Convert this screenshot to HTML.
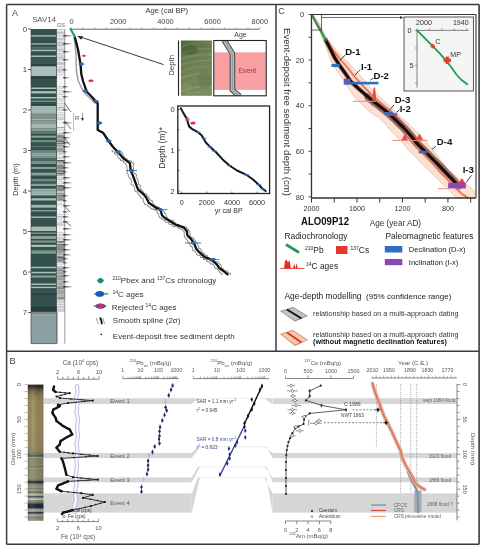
<!DOCTYPE html>
<html><head><meta charset="utf-8"><style>
html,body{margin:0;padding:0;background:#fff;width:485px;height:550px;overflow:hidden}
svg{display:block;filter:blur(0.3px)}
text{font-family:"Liberation Sans", sans-serif}
</style></head><body>
<svg width="485" height="550" viewBox="0 0 485 550">
<rect x="0" y="0" width="485" height="550" fill="#fff"/>
<text x="12" y="15.5" font-size="9" fill="#444" text-anchor="start" font-weight="normal" >A</text>
<text x="44" y="22.3" font-size="7.8" fill="#555" text-anchor="middle" font-weight="normal" >SAV14</text>
<text x="61" y="27" font-size="5.5" fill="#666" text-anchor="middle" font-weight="normal" >GS</text>
<rect x="31" y="29" width="25.6" height="283.6" fill="#33524d" stroke="none" stroke-width="1" />
<rect x="31" y="35.2" width="25.6" height="1.3999999999999986" fill="#a9bfba" stroke="none" stroke-width="1" />
<rect x="31" y="43.2" width="25.6" height="1.3999999999999986" fill="#9ab2aa" stroke="none" stroke-width="1" />
<rect x="31" y="47.5" width="25.6" height="0.7999999999999972" fill="#7a958d" stroke="none" stroke-width="1" />
<rect x="31" y="49.7" width="25.6" height="1.5" fill="#a9bfba" stroke="none" stroke-width="1" />
<rect x="31" y="55.5" width="25.6" height="1.5" fill="#a9bfba" stroke="none" stroke-width="1" />
<rect x="31" y="57.7" width="25.6" height="6.599999999999994" fill="#3c5654" stroke="none" stroke-width="1" />
<rect x="31" y="64.3" width="25.6" height="1.4000000000000057" fill="#283c3e" stroke="none" stroke-width="1" />
<rect x="31" y="66.3" width="25.6" height="9.700000000000003" fill="#a9bfba" stroke="none" stroke-width="1" />
<rect x="31" y="76" width="25.6" height="3" fill="#2a4044" stroke="none" stroke-width="1" />
<rect x="31" y="87.5" width="25.6" height="1.5" fill="#a9bfba" stroke="none" stroke-width="1" />
<rect x="31" y="91.2" width="25.6" height="2.200000000000003" fill="#b0c4bc" stroke="none" stroke-width="1" />
<rect x="31" y="97" width="25.6" height="1.5" fill="#a9bfba" stroke="none" stroke-width="1" />
<rect x="31" y="100.6" width="25.6" height="1.4000000000000057" fill="#7a958d" stroke="none" stroke-width="1" />
<rect x="31" y="104.4" width="25.6" height="1.3999999999999915" fill="#263a3c" stroke="none" stroke-width="1" />
<rect x="31" y="105.8" width="25.6" height="8.0" fill="#a2b8b0" stroke="none" stroke-width="1" />
<rect x="31" y="113.8" width="25.6" height="5.200000000000003" fill="#7f9189" stroke="none" stroke-width="1" />
<rect x="31" y="119" width="25.6" height="1.4000000000000057" fill="#a0b4ac" stroke="none" stroke-width="1" />
<rect x="31" y="120.4" width="25.6" height="3.5999999999999943" fill="#8a9b93" stroke="none" stroke-width="1" />
<rect x="31" y="124" width="25.6" height="4.400000000000006" fill="#a6b8b0" stroke="none" stroke-width="1" />
<rect x="31" y="128.4" width="25.6" height="2.9000000000000057" fill="#8a9c94" stroke="none" stroke-width="1" />
<rect x="31" y="131.3" width="25.6" height="2.8999999999999773" fill="#5f7a72" stroke="none" stroke-width="1" />
<rect x="31" y="134.2" width="25.6" height="1.4000000000000057" fill="#2c4442" stroke="none" stroke-width="1" />
<rect x="31" y="135.6" width="25.6" height="2.200000000000017" fill="#8aa49c" stroke="none" stroke-width="1" />
<rect x="31" y="137.8" width="25.6" height="2.1999999999999886" fill="#2f4c48" stroke="none" stroke-width="1" />
<rect x="31" y="140" width="25.6" height="2.1999999999999886" fill="#6f8c84" stroke="none" stroke-width="1" />
<rect x="31" y="146" width="25.6" height="1" fill="#5a7a72" stroke="none" stroke-width="1" />
<rect x="31" y="150.2" width="25.6" height="2.8000000000000114" fill="#6a8880" stroke="none" stroke-width="1" />
<rect x="31" y="153" width="25.6" height="3" fill="#8ca29a" stroke="none" stroke-width="1" />
<rect x="31" y="156" width="25.6" height="2.1999999999999886" fill="#7c948c" stroke="none" stroke-width="1" />
<rect x="31" y="158.2" width="25.6" height="2.8000000000000114" fill="#4a6660" stroke="none" stroke-width="1" />
<rect x="31" y="161" width="25.6" height="3" fill="#7a9088" stroke="none" stroke-width="1" />
<rect x="31" y="167" width="25.6" height="2" fill="#8aa098" stroke="none" stroke-width="1" />
<rect x="31" y="172.7" width="25.6" height="2.8000000000000114" fill="#8aa098" stroke="none" stroke-width="1" />
<rect x="31" y="177.2" width="25.6" height="1.4000000000000057" fill="#283e3e" stroke="none" stroke-width="1" />
<rect x="31" y="178.6" width="25.6" height="2.9000000000000057" fill="#6a8880" stroke="none" stroke-width="1" />
<rect x="31" y="183.7" width="25.6" height="2.3000000000000114" fill="#8aa098" stroke="none" stroke-width="1" />
<rect x="31" y="188.8" width="25.6" height="1.5" fill="#a9bfba" stroke="none" stroke-width="1" />
<rect x="31" y="190.3" width="25.6" height="2.8999999999999773" fill="#9ab0a8" stroke="none" stroke-width="1" />
<rect x="31" y="193.2" width="25.6" height="2.200000000000017" fill="#a9bfba" stroke="none" stroke-width="1" />
<rect x="31" y="198.3" width="25.6" height="2.1999999999999886" fill="#a9bfba" stroke="none" stroke-width="1" />
<rect x="31" y="204.8" width="25.6" height="2.8999999999999773" fill="#a0b8b0" stroke="none" stroke-width="1" />
<rect x="31" y="210" width="25.6" height="1.4000000000000057" fill="#8aa098" stroke="none" stroke-width="1" />
<rect x="31" y="216.5" width="25.6" height="1.4000000000000057" fill="#a9bfba" stroke="none" stroke-width="1" />
<rect x="31" y="226.6" width="25.6" height="4.400000000000006" fill="#a8bcb4" stroke="none" stroke-width="1" />
<rect x="31" y="232.5" width="25.6" height="1.5" fill="#7a9088" stroke="none" stroke-width="1" />
<rect x="31" y="236" width="25.6" height="3" fill="#8aa098" stroke="none" stroke-width="1" />
<rect x="31" y="240.5" width="25.6" height="2.0999999999999943" fill="#8a9088" stroke="none" stroke-width="1" />
<rect x="31" y="244.8" width="25.6" height="2.1999999999999886" fill="#a9bfba" stroke="none" stroke-width="1" />
<rect x="31" y="250" width="25.6" height="1.5" fill="#6a8880" stroke="none" stroke-width="1" />
<rect x="31" y="251.5" width="25.6" height="2.0999999999999943" fill="#8aa49c" stroke="none" stroke-width="1" />
<rect x="31" y="266.7" width="25.6" height="1.5" fill="#a9bfba" stroke="none" stroke-width="1" />
<rect x="31" y="271.8" width="25.6" height="1.5" fill="#a9bfba" stroke="none" stroke-width="1" />
<rect x="31" y="275.5" width="25.6" height="2.1000000000000227" fill="#8aa098" stroke="none" stroke-width="1" />
<rect x="31" y="283.5" width="25.6" height="1.5" fill="#a9bfba" stroke="none" stroke-width="1" />
<rect x="31" y="286.7" width="25.6" height="1.400000000000034" fill="#a9bfba" stroke="none" stroke-width="1" />
<rect x="31" y="293.6" width="25.6" height="1.3999999999999773" fill="#283c3e" stroke="none" stroke-width="1" />
<rect x="31" y="306.7" width="25.6" height="5.100000000000023" fill="#2a3c3e" stroke="none" stroke-width="1" />
<rect x="31" y="311.8" width="25.6" height="2.8999999999999773" fill="#7a8a80" stroke="none" stroke-width="1" />
<rect x="31" y="314.7" width="25.6" height="28.900000000000034" fill="#8c9fa2" stroke="none" stroke-width="1" />
<line x1="31" y1="29" x2="31" y2="343.6" stroke="#333" stroke-width="0.6" />
<line x1="56.6" y1="29" x2="56.6" y2="343.6" stroke="#333" stroke-width="0.6" />
<line x1="31" y1="343.6" x2="56.6" y2="343.6" stroke="#333" stroke-width="0.6" />
<rect x="57.2" y="29" width="7.599999999999994" height="283" fill="#f4f4f4" stroke="none" stroke-width="1" />
<line x1="57.2" y1="29.5" x2="64.8" y2="29.5" stroke="#999" stroke-width="0.5" />
<line x1="57.2" y1="31.7" x2="64.8" y2="31.7" stroke="#aaa" stroke-width="0.5" />
<line x1="57.2" y1="32.9" x2="64.8" y2="32.9" stroke="#999" stroke-width="0.9" />
<line x1="57.2" y1="34.1" x2="64.8" y2="34.1" stroke="#bbb" stroke-width="0.5" />
<line x1="57.2" y1="35.300000000000004" x2="64.8" y2="35.300000000000004" stroke="#ccc" stroke-width="0.7" />
<line x1="57.2" y1="36.50000000000001" x2="64.8" y2="36.50000000000001" stroke="#bbb" stroke-width="0.5" />
<line x1="57.2" y1="38.70000000000001" x2="64.8" y2="38.70000000000001" stroke="#aaa" stroke-width="0.9" />
<line x1="57.2" y1="39.90000000000001" x2="64.8" y2="39.90000000000001" stroke="#bbb" stroke-width="0.9" />
<line x1="57.2" y1="41.100000000000016" x2="64.8" y2="41.100000000000016" stroke="#ccc" stroke-width="0.5" />
<line x1="57.2" y1="42.600000000000016" x2="64.8" y2="42.600000000000016" stroke="#aaa" stroke-width="0.9" />
<line x1="57.2" y1="44.100000000000016" x2="64.8" y2="44.100000000000016" stroke="#999" stroke-width="0.7" />
<line x1="57.2" y1="45.600000000000016" x2="64.8" y2="45.600000000000016" stroke="#aaa" stroke-width="0.9" />
<line x1="57.2" y1="47.40000000000001" x2="64.8" y2="47.40000000000001" stroke="#bbb" stroke-width="0.5" />
<line x1="57.2" y1="48.90000000000001" x2="64.8" y2="48.90000000000001" stroke="#999" stroke-width="0.5" />
<line x1="57.2" y1="50.100000000000016" x2="64.8" y2="50.100000000000016" stroke="#aaa" stroke-width="0.9" />
<line x1="57.2" y1="51.600000000000016" x2="64.8" y2="51.600000000000016" stroke="#ccc" stroke-width="0.9" />
<line x1="57.2" y1="53.80000000000002" x2="64.8" y2="53.80000000000002" stroke="#999" stroke-width="0.7" />
<line x1="57.2" y1="56.00000000000002" x2="64.8" y2="56.00000000000002" stroke="#999" stroke-width="0.7" />
<line x1="57.2" y1="57.50000000000002" x2="64.8" y2="57.50000000000002" stroke="#bbb" stroke-width="0.9" />
<line x1="57.2" y1="59.00000000000002" x2="64.8" y2="59.00000000000002" stroke="#aaa" stroke-width="0.9" />
<line x1="57.2" y1="60.80000000000002" x2="64.8" y2="60.80000000000002" stroke="#ccc" stroke-width="0.7" />
<line x1="57.2" y1="63.00000000000002" x2="64.8" y2="63.00000000000002" stroke="#999" stroke-width="0.9" />
<line x1="57.2" y1="64.20000000000002" x2="64.8" y2="64.20000000000002" stroke="#aaa" stroke-width="0.9" />
<line x1="57.2" y1="66.40000000000002" x2="64.8" y2="66.40000000000002" stroke="#bbb" stroke-width="0.7" />
<line x1="57.2" y1="67.90000000000002" x2="64.8" y2="67.90000000000002" stroke="#ccc" stroke-width="0.7" />
<line x1="57.2" y1="69.10000000000002" x2="64.8" y2="69.10000000000002" stroke="#aaa" stroke-width="0.9" />
<line x1="57.2" y1="70.90000000000002" x2="64.8" y2="70.90000000000002" stroke="#999" stroke-width="0.9" />
<line x1="57.2" y1="72.70000000000002" x2="64.8" y2="72.70000000000002" stroke="#ccc" stroke-width="0.9" />
<line x1="57.2" y1="74.90000000000002" x2="64.8" y2="74.90000000000002" stroke="#aaa" stroke-width="0.5" />
<line x1="57.2" y1="76.70000000000002" x2="64.8" y2="76.70000000000002" stroke="#ccc" stroke-width="0.9" />
<line x1="57.2" y1="77.90000000000002" x2="64.8" y2="77.90000000000002" stroke="#aaa" stroke-width="0.9" />
<line x1="57.2" y1="79.70000000000002" x2="64.8" y2="79.70000000000002" stroke="#ccc" stroke-width="0.7" />
<line x1="57.2" y1="81.90000000000002" x2="64.8" y2="81.90000000000002" stroke="#999" stroke-width="0.5" />
<line x1="57.2" y1="84.10000000000002" x2="64.8" y2="84.10000000000002" stroke="#999" stroke-width="0.5" />
<line x1="57.2" y1="85.30000000000003" x2="64.8" y2="85.30000000000003" stroke="#ccc" stroke-width="0.5" />
<line x1="57.2" y1="86.80000000000003" x2="64.8" y2="86.80000000000003" stroke="#999" stroke-width="0.5" />
<line x1="57.2" y1="88.30000000000003" x2="64.8" y2="88.30000000000003" stroke="#ccc" stroke-width="0.7" />
<line x1="57.2" y1="90.50000000000003" x2="64.8" y2="90.50000000000003" stroke="#aaa" stroke-width="0.5" />
<line x1="57.2" y1="92.70000000000003" x2="64.8" y2="92.70000000000003" stroke="#ccc" stroke-width="0.9" />
<line x1="57.2" y1="94.50000000000003" x2="64.8" y2="94.50000000000003" stroke="#bbb" stroke-width="0.7" />
<line x1="57.2" y1="96.30000000000003" x2="64.8" y2="96.30000000000003" stroke="#ccc" stroke-width="0.7" />
<line x1="57.2" y1="98.50000000000003" x2="64.8" y2="98.50000000000003" stroke="#bbb" stroke-width="0.5" />
<line x1="57.2" y1="99.70000000000003" x2="64.8" y2="99.70000000000003" stroke="#bbb" stroke-width="0.5" />
<line x1="57.2" y1="101.20000000000003" x2="64.8" y2="101.20000000000003" stroke="#bbb" stroke-width="0.5" />
<line x1="57.2" y1="103.40000000000003" x2="64.8" y2="103.40000000000003" stroke="#bbb" stroke-width="0.7" />
<line x1="57.2" y1="105.20000000000003" x2="64.8" y2="105.20000000000003" stroke="#aaa" stroke-width="0.5" />
<line x1="57.2" y1="107.40000000000003" x2="64.8" y2="107.40000000000003" stroke="#999" stroke-width="0.9" />
<line x1="57.2" y1="109.20000000000003" x2="64.8" y2="109.20000000000003" stroke="#bbb" stroke-width="0.9" />
<line x1="57.2" y1="110.40000000000003" x2="64.8" y2="110.40000000000003" stroke="#ccc" stroke-width="0.9" />
<line x1="57.2" y1="112.60000000000004" x2="64.8" y2="112.60000000000004" stroke="#ccc" stroke-width="0.7" />
<line x1="57.2" y1="114.80000000000004" x2="64.8" y2="114.80000000000004" stroke="#aaa" stroke-width="0.7" />
<line x1="57.2" y1="117.00000000000004" x2="64.8" y2="117.00000000000004" stroke="#aaa" stroke-width="0.5" />
<line x1="57.2" y1="118.20000000000005" x2="64.8" y2="118.20000000000005" stroke="#bbb" stroke-width="0.7" />
<line x1="57.2" y1="119.70000000000005" x2="64.8" y2="119.70000000000005" stroke="#aaa" stroke-width="0.7" />
<line x1="57.2" y1="120.90000000000005" x2="64.8" y2="120.90000000000005" stroke="#aaa" stroke-width="0.5" />
<line x1="57.2" y1="122.40000000000005" x2="64.8" y2="122.40000000000005" stroke="#aaa" stroke-width="0.7" />
<line x1="57.2" y1="123.60000000000005" x2="64.8" y2="123.60000000000005" stroke="#aaa" stroke-width="0.5" />
<line x1="57.2" y1="125.80000000000005" x2="64.8" y2="125.80000000000005" stroke="#bbb" stroke-width="0.9" />
<line x1="57.2" y1="127.60000000000005" x2="64.8" y2="127.60000000000005" stroke="#999" stroke-width="0.9" />
<line x1="57.2" y1="129.40000000000006" x2="64.8" y2="129.40000000000006" stroke="#ccc" stroke-width="0.5" />
<line x1="57.2" y1="130.60000000000005" x2="64.8" y2="130.60000000000005" stroke="#ccc" stroke-width="0.7" />
<line x1="57.2" y1="132.80000000000004" x2="64.8" y2="132.80000000000004" stroke="#ccc" stroke-width="0.7" />
<line x1="57.2" y1="134.00000000000003" x2="64.8" y2="134.00000000000003" stroke="#777" stroke-width="0.7" />
<line x1="57.2" y1="135.40000000000003" x2="64.8" y2="135.40000000000003" stroke="#999" stroke-width="1.2" />
<line x1="57.2" y1="136.50000000000003" x2="64.8" y2="136.50000000000003" stroke="#888" stroke-width="1.2" />
<line x1="57.2" y1="137.40000000000003" x2="64.8" y2="137.40000000000003" stroke="#555" stroke-width="0.7" />
<line x1="57.2" y1="138.80000000000004" x2="64.8" y2="138.80000000000004" stroke="#999" stroke-width="0.7" />
<line x1="57.2" y1="140.20000000000005" x2="64.8" y2="140.20000000000005" stroke="#555" stroke-width="1.2" />
<line x1="57.2" y1="141.30000000000004" x2="64.8" y2="141.30000000000004" stroke="#555" stroke-width="1.2" />
<line x1="57.2" y1="142.40000000000003" x2="64.8" y2="142.40000000000003" stroke="#999" stroke-width="0.7" />
<line x1="57.2" y1="143.50000000000003" x2="64.8" y2="143.50000000000003" stroke="#777" stroke-width="1.2" />
<line x1="57.2" y1="144.90000000000003" x2="64.8" y2="144.90000000000003" stroke="#999" stroke-width="1.2" />
<line x1="57.2" y1="145.80000000000004" x2="64.8" y2="145.80000000000004" stroke="#777" stroke-width="0.7" />
<line x1="57.2" y1="146.90000000000003" x2="64.8" y2="146.90000000000003" stroke="#777" stroke-width="0.7" />
<line x1="57.2" y1="148.30000000000004" x2="64.8" y2="148.30000000000004" stroke="#888" stroke-width="0.9" />
<line x1="57.2" y1="149.70000000000005" x2="64.8" y2="149.70000000000005" stroke="#555" stroke-width="0.7" />
<line x1="57.2" y1="150.80000000000004" x2="64.8" y2="150.80000000000004" stroke="#888" stroke-width="0.9" />
<line x1="57.2" y1="151.70000000000005" x2="64.8" y2="151.70000000000005" stroke="#999" stroke-width="0.9" />
<line x1="57.2" y1="153.10000000000005" x2="64.8" y2="153.10000000000005" stroke="#999" stroke-width="0.7" />
<line x1="57.2" y1="154.30000000000004" x2="64.8" y2="154.30000000000004" stroke="#bbb" stroke-width="0.5" />
<line x1="57.2" y1="155.80000000000004" x2="64.8" y2="155.80000000000004" stroke="#ccc" stroke-width="0.5" />
<line x1="57.2" y1="157.60000000000005" x2="64.8" y2="157.60000000000005" stroke="#bbb" stroke-width="0.7" />
<line x1="57.2" y1="158.80000000000004" x2="64.8" y2="158.80000000000004" stroke="#ccc" stroke-width="0.9" />
<line x1="57.2" y1="160.60000000000005" x2="64.8" y2="160.60000000000005" stroke="#555" stroke-width="1.2" />
<line x1="57.2" y1="161.50000000000006" x2="64.8" y2="161.50000000000006" stroke="#888" stroke-width="1.2" />
<line x1="57.2" y1="162.40000000000006" x2="64.8" y2="162.40000000000006" stroke="#888" stroke-width="0.7" />
<line x1="57.2" y1="163.50000000000006" x2="64.8" y2="163.50000000000006" stroke="#999" stroke-width="0.7" />
<line x1="57.2" y1="164.90000000000006" x2="64.8" y2="164.90000000000006" stroke="#888" stroke-width="0.9" />
<line x1="57.2" y1="166.00000000000006" x2="64.8" y2="166.00000000000006" stroke="#555" stroke-width="1.2" />
<line x1="57.2" y1="166.90000000000006" x2="64.8" y2="166.90000000000006" stroke="#777" stroke-width="0.7" />
<line x1="57.2" y1="167.80000000000007" x2="64.8" y2="167.80000000000007" stroke="#777" stroke-width="1.2" />
<line x1="57.2" y1="168.90000000000006" x2="64.8" y2="168.90000000000006" stroke="#777" stroke-width="1.2" />
<line x1="57.2" y1="170.30000000000007" x2="64.8" y2="170.30000000000007" stroke="#888" stroke-width="1.2" />
<line x1="57.2" y1="171.40000000000006" x2="64.8" y2="171.40000000000006" stroke="#777" stroke-width="1.2" />
<line x1="57.2" y1="172.80000000000007" x2="64.8" y2="172.80000000000007" stroke="#777" stroke-width="0.7" />
<line x1="57.2" y1="173.70000000000007" x2="64.8" y2="173.70000000000007" stroke="#555" stroke-width="1.2" />
<line x1="57.2" y1="175.10000000000008" x2="64.8" y2="175.10000000000008" stroke="#777" stroke-width="0.9" />
<line x1="57.2" y1="176.00000000000009" x2="64.8" y2="176.00000000000009" stroke="#bbb" stroke-width="0.5" />
<line x1="57.2" y1="177.8000000000001" x2="64.8" y2="177.8000000000001" stroke="#bbb" stroke-width="0.7" />
<line x1="57.2" y1="179.3000000000001" x2="64.8" y2="179.3000000000001" stroke="#999" stroke-width="0.7" />
<line x1="57.2" y1="181.50000000000009" x2="64.8" y2="181.50000000000009" stroke="#bbb" stroke-width="0.5" />
<line x1="57.2" y1="183.3000000000001" x2="64.8" y2="183.3000000000001" stroke="#ccc" stroke-width="0.9" />
<line x1="57.2" y1="185.50000000000009" x2="64.8" y2="185.50000000000009" stroke="#777" stroke-width="1.2" />
<line x1="57.2" y1="186.4000000000001" x2="64.8" y2="186.4000000000001" stroke="#555" stroke-width="0.9" />
<line x1="57.2" y1="187.3000000000001" x2="64.8" y2="187.3000000000001" stroke="#555" stroke-width="0.7" />
<line x1="57.2" y1="188.2000000000001" x2="64.8" y2="188.2000000000001" stroke="#777" stroke-width="0.9" />
<line x1="57.2" y1="189.6000000000001" x2="64.8" y2="189.6000000000001" stroke="#555" stroke-width="1.2" />
<line x1="57.2" y1="190.5000000000001" x2="64.8" y2="190.5000000000001" stroke="#999" stroke-width="1.2" />
<line x1="57.2" y1="191.90000000000012" x2="64.8" y2="191.90000000000012" stroke="#888" stroke-width="0.7" />
<line x1="57.2" y1="193.30000000000013" x2="64.8" y2="193.30000000000013" stroke="#555" stroke-width="0.7" />
<line x1="57.2" y1="194.20000000000013" x2="64.8" y2="194.20000000000013" stroke="#999" stroke-width="0.7" />
<line x1="57.2" y1="195.10000000000014" x2="64.8" y2="195.10000000000014" stroke="#888" stroke-width="1.2" />
<line x1="57.2" y1="196.00000000000014" x2="64.8" y2="196.00000000000014" stroke="#555" stroke-width="0.9" />
<line x1="57.2" y1="197.10000000000014" x2="64.8" y2="197.10000000000014" stroke="#777" stroke-width="1.2" />
<line x1="57.2" y1="198.20000000000013" x2="64.8" y2="198.20000000000013" stroke="#888" stroke-width="1.2" />
<line x1="57.2" y1="199.60000000000014" x2="64.8" y2="199.60000000000014" stroke="#888" stroke-width="1.2" />
<line x1="57.2" y1="200.50000000000014" x2="64.8" y2="200.50000000000014" stroke="#999" stroke-width="0.9" />
<line x1="57.2" y1="202.00000000000014" x2="64.8" y2="202.00000000000014" stroke="#ccc" stroke-width="0.5" />
<line x1="57.2" y1="204.20000000000013" x2="64.8" y2="204.20000000000013" stroke="#aaa" stroke-width="0.7" />
<line x1="57.2" y1="206.40000000000012" x2="64.8" y2="206.40000000000012" stroke="#999" stroke-width="0.5" />
<line x1="57.2" y1="207.90000000000012" x2="64.8" y2="207.90000000000012" stroke="#ccc" stroke-width="0.5" />
<line x1="57.2" y1="209.40000000000012" x2="64.8" y2="209.40000000000012" stroke="#999" stroke-width="0.5" />
<line x1="57.2" y1="210.90000000000012" x2="64.8" y2="210.90000000000012" stroke="#999" stroke-width="0.5" />
<line x1="57.2" y1="212.70000000000013" x2="64.8" y2="212.70000000000013" stroke="#bbb" stroke-width="0.7" />
<line x1="57.2" y1="214.20000000000013" x2="64.8" y2="214.20000000000013" stroke="#aaa" stroke-width="0.7" />
<line x1="57.2" y1="216.40000000000012" x2="64.8" y2="216.40000000000012" stroke="#bbb" stroke-width="0.9" />
<line x1="57.2" y1="217.90000000000012" x2="64.8" y2="217.90000000000012" stroke="#bbb" stroke-width="0.9" />
<line x1="57.2" y1="220.1000000000001" x2="64.8" y2="220.1000000000001" stroke="#ccc" stroke-width="0.7" />
<line x1="57.2" y1="222.3000000000001" x2="64.8" y2="222.3000000000001" stroke="#bbb" stroke-width="0.7" />
<line x1="57.2" y1="224.1000000000001" x2="64.8" y2="224.1000000000001" stroke="#aaa" stroke-width="0.9" />
<line x1="57.2" y1="225.90000000000012" x2="64.8" y2="225.90000000000012" stroke="#aaa" stroke-width="0.7" />
<line x1="57.2" y1="228.1000000000001" x2="64.8" y2="228.1000000000001" stroke="#ccc" stroke-width="0.9" />
<line x1="57.2" y1="229.3000000000001" x2="64.8" y2="229.3000000000001" stroke="#ccc" stroke-width="0.7" />
<line x1="57.2" y1="231.1000000000001" x2="64.8" y2="231.1000000000001" stroke="#aaa" stroke-width="0.5" />
<line x1="57.2" y1="232.6000000000001" x2="64.8" y2="232.6000000000001" stroke="#aaa" stroke-width="0.5" />
<line x1="57.2" y1="234.40000000000012" x2="64.8" y2="234.40000000000012" stroke="#999" stroke-width="0.5" />
<line x1="57.2" y1="235.90000000000012" x2="64.8" y2="235.90000000000012" stroke="#999" stroke-width="0.5" />
<line x1="57.2" y1="238.1000000000001" x2="64.8" y2="238.1000000000001" stroke="#999" stroke-width="0.7" />
<line x1="57.2" y1="239.6000000000001" x2="64.8" y2="239.6000000000001" stroke="#ccc" stroke-width="0.9" />
<line x1="57.2" y1="241.40000000000012" x2="64.8" y2="241.40000000000012" stroke="#555" stroke-width="0.9" />
<line x1="57.2" y1="242.30000000000013" x2="64.8" y2="242.30000000000013" stroke="#777" stroke-width="0.9" />
<line x1="57.2" y1="243.20000000000013" x2="64.8" y2="243.20000000000013" stroke="#999" stroke-width="0.7" />
<line x1="57.2" y1="244.60000000000014" x2="64.8" y2="244.60000000000014" stroke="#555" stroke-width="0.9" />
<line x1="57.2" y1="245.50000000000014" x2="64.8" y2="245.50000000000014" stroke="#777" stroke-width="0.7" />
<line x1="57.2" y1="246.60000000000014" x2="64.8" y2="246.60000000000014" stroke="#555" stroke-width="0.9" />
<line x1="57.2" y1="247.50000000000014" x2="64.8" y2="247.50000000000014" stroke="#999" stroke-width="1.2" />
<line x1="57.2" y1="248.60000000000014" x2="64.8" y2="248.60000000000014" stroke="#999" stroke-width="1.2" />
<line x1="57.2" y1="249.50000000000014" x2="64.8" y2="249.50000000000014" stroke="#555" stroke-width="1.2" />
<line x1="57.2" y1="250.90000000000015" x2="64.8" y2="250.90000000000015" stroke="#777" stroke-width="0.7" />
<line x1="57.2" y1="251.80000000000015" x2="64.8" y2="251.80000000000015" stroke="#999" stroke-width="0.7" />
<line x1="57.2" y1="252.70000000000016" x2="64.8" y2="252.70000000000016" stroke="#777" stroke-width="0.9" />
<line x1="57.2" y1="254.10000000000016" x2="64.8" y2="254.10000000000016" stroke="#999" stroke-width="1.2" />
<line x1="57.2" y1="255.00000000000017" x2="64.8" y2="255.00000000000017" stroke="#999" stroke-width="0.9" />
<line x1="57.2" y1="256.40000000000015" x2="64.8" y2="256.40000000000015" stroke="#777" stroke-width="0.9" />
<line x1="57.2" y1="257.50000000000017" x2="64.8" y2="257.50000000000017" stroke="#555" stroke-width="0.9" />
<line x1="57.2" y1="258.40000000000015" x2="64.8" y2="258.40000000000015" stroke="#555" stroke-width="0.7" />
<line x1="57.2" y1="259.8000000000001" x2="64.8" y2="259.8000000000001" stroke="#777" stroke-width="1.2" />
<line x1="57.2" y1="260.90000000000015" x2="64.8" y2="260.90000000000015" stroke="#777" stroke-width="0.9" />
<line x1="57.2" y1="261.8000000000001" x2="64.8" y2="261.8000000000001" stroke="#888" stroke-width="1.2" />
<line x1="57.2" y1="262.90000000000015" x2="64.8" y2="262.90000000000015" stroke="#ccc" stroke-width="0.9" />
<line x1="57.2" y1="264.70000000000016" x2="64.8" y2="264.70000000000016" stroke="#bbb" stroke-width="0.5" />
<line x1="57.2" y1="266.50000000000017" x2="64.8" y2="266.50000000000017" stroke="#bbb" stroke-width="0.9" />
<line x1="57.2" y1="268.00000000000017" x2="64.8" y2="268.00000000000017" stroke="#888" stroke-width="0.9" />
<line x1="57.2" y1="268.90000000000015" x2="64.8" y2="268.90000000000015" stroke="#777" stroke-width="0.7" />
<line x1="57.2" y1="269.8000000000001" x2="64.8" y2="269.8000000000001" stroke="#999" stroke-width="0.9" />
<line x1="57.2" y1="270.7000000000001" x2="64.8" y2="270.7000000000001" stroke="#555" stroke-width="0.7" />
<line x1="57.2" y1="272.1000000000001" x2="64.8" y2="272.1000000000001" stroke="#888" stroke-width="1.2" />
<line x1="57.2" y1="273.50000000000006" x2="64.8" y2="273.50000000000006" stroke="#999" stroke-width="1.2" />
<line x1="57.2" y1="274.40000000000003" x2="64.8" y2="274.40000000000003" stroke="#999" stroke-width="0.7" />
<line x1="57.2" y1="275.50000000000006" x2="64.8" y2="275.50000000000006" stroke="#777" stroke-width="0.7" />
<line x1="57.2" y1="276.6000000000001" x2="64.8" y2="276.6000000000001" stroke="#888" stroke-width="0.7" />
<line x1="57.2" y1="277.7000000000001" x2="64.8" y2="277.7000000000001" stroke="#999" stroke-width="0.9" />
<line x1="57.2" y1="279.1000000000001" x2="64.8" y2="279.1000000000001" stroke="#999" stroke-width="0.7" />
<line x1="57.2" y1="280.00000000000006" x2="64.8" y2="280.00000000000006" stroke="#999" stroke-width="0.7" />
<line x1="57.2" y1="281.1000000000001" x2="64.8" y2="281.1000000000001" stroke="#777" stroke-width="0.7" />
<line x1="57.2" y1="282.2000000000001" x2="64.8" y2="282.2000000000001" stroke="#888" stroke-width="0.7" />
<line x1="57.2" y1="283.3000000000001" x2="64.8" y2="283.3000000000001" stroke="#999" stroke-width="1.2" />
<line x1="57.2" y1="284.7000000000001" x2="64.8" y2="284.7000000000001" stroke="#777" stroke-width="0.7" />
<line x1="57.2" y1="286.1000000000001" x2="64.8" y2="286.1000000000001" stroke="#555" stroke-width="0.7" />
<line x1="57.2" y1="287.2000000000001" x2="64.8" y2="287.2000000000001" stroke="#555" stroke-width="0.7" />
<line x1="57.2" y1="288.3000000000001" x2="64.8" y2="288.3000000000001" stroke="#555" stroke-width="0.9" />
<line x1="57.2" y1="289.2000000000001" x2="64.8" y2="289.2000000000001" stroke="#999" stroke-width="0.9" />
<line x1="57.2" y1="290.6000000000001" x2="64.8" y2="290.6000000000001" stroke="#777" stroke-width="0.7" />
<line x1="57.2" y1="292.00000000000006" x2="64.8" y2="292.00000000000006" stroke="#777" stroke-width="1.2" />
<line x1="57.2" y1="293.40000000000003" x2="64.8" y2="293.40000000000003" stroke="#888" stroke-width="0.9" />
<line x1="57.2" y1="294.8" x2="64.8" y2="294.8" stroke="#888" stroke-width="0.7" />
<line x1="57.2" y1="295.90000000000003" x2="64.8" y2="295.90000000000003" stroke="#777" stroke-width="0.7" />
<line x1="57.2" y1="297.3" x2="64.8" y2="297.3" stroke="#888" stroke-width="1.2" />
<line x1="57.2" y1="298.7" x2="64.8" y2="298.7" stroke="#777" stroke-width="1.2" />
<line x1="57.2" y1="300.09999999999997" x2="64.8" y2="300.09999999999997" stroke="#aaa" stroke-width="0.9" />
<line x1="57.2" y1="301.59999999999997" x2="64.8" y2="301.59999999999997" stroke="#aaa" stroke-width="0.5" />
<line x1="57.2" y1="302.79999999999995" x2="64.8" y2="302.79999999999995" stroke="#bbb" stroke-width="0.9" />
<line x1="57.2" y1="304.59999999999997" x2="64.8" y2="304.59999999999997" stroke="#aaa" stroke-width="0.7" />
<line x1="57.2" y1="306.79999999999995" x2="64.8" y2="306.79999999999995" stroke="#aaa" stroke-width="0.9" />
<line x1="57.2" y1="307.99999999999994" x2="64.8" y2="307.99999999999994" stroke="#bbb" stroke-width="0.7" />
<line x1="57.2" y1="309.79999999999995" x2="64.8" y2="309.79999999999995" stroke="#aaa" stroke-width="0.7" />
<line x1="57.2" y1="310.99999999999994" x2="64.8" y2="310.99999999999994" stroke="#aaa" stroke-width="0.9" />
<rect x="57.2" y="137" width="7.599999999999994" height="4" fill="#9a9a9a" stroke="none" stroke-width="1" opacity="0.7"/>
<rect x="57.2" y="165" width="7.599999999999994" height="3" fill="#8a8a8a" stroke="none" stroke-width="1" opacity="0.7"/>
<rect x="57.2" y="188" width="7.599999999999994" height="3" fill="#8a8a8a" stroke="none" stroke-width="1" opacity="0.7"/>
<rect x="57.2" y="246" width="7.599999999999994" height="6" fill="#909090" stroke="none" stroke-width="1" opacity="0.7"/>
<rect x="57.2" y="276" width="7.599999999999994" height="4" fill="#959595" stroke="none" stroke-width="1" opacity="0.7"/>
<rect x="57.2" y="120" width="7.599999999999994" height="7" fill="#ffffff" stroke="none" stroke-width="1" opacity="0.7"/>
<rect x="57.2" y="76" width="7.599999999999994" height="10" fill="#ffffff" stroke="none" stroke-width="1" opacity="0.7"/>
<rect x="57.2" y="206" width="7.599999999999994" height="8" fill="#ffffff" stroke="none" stroke-width="1" opacity="0.7"/>
<rect x="57.2" y="226" width="7.599999999999994" height="6" fill="#ffffff" stroke="none" stroke-width="1" opacity="0.7"/>
<rect x="57.2" y="312" width="7.599999999999994" height="31.600000000000023" fill="#ffffff" stroke="none" stroke-width="1" />
<line x1="57.5" y1="312" x2="57.5" y2="343.6" stroke="#666" stroke-width="0.5" />
<line x1="64.8" y1="29" x2="64.8" y2="343.6" stroke="#555" stroke-width="0.6" />
<polygon points="63.3,34.9 72.8,36.0 63.3,36.5" fill="#2a2a2a" stroke="none" stroke-width="1" />
<polygon points="63.3,42.9 72.8,44.0 63.3,44.5" fill="#2a2a2a" stroke="none" stroke-width="1" />
<polygon points="63.3,50.9 70.8,52.0 63.3,52.5" fill="#2a2a2a" stroke="none" stroke-width="1" />
<polygon points="63.3,58.9 69.8,60.0 63.3,60.5" fill="#2a2a2a" stroke="none" stroke-width="1" />
<polygon points="63.3,68.9 67.8,70.0 63.3,70.5" fill="#2a2a2a" stroke="none" stroke-width="1" />
<polygon points="63.3,76.9 69.8,78.0 63.3,78.5" fill="#2a2a2a" stroke="none" stroke-width="1" />
<polygon points="63.3,85.9 68.8,87.0 63.3,87.5" fill="#2a2a2a" stroke="none" stroke-width="1" />
<polygon points="63.3,90.9 72.8,92.0 63.3,92.5" fill="#2a2a2a" stroke="none" stroke-width="1" />
<polygon points="63.3,95.9 68.8,97.0 63.3,97.5" fill="#2a2a2a" stroke="none" stroke-width="1" />
<polygon points="63.3,108.9 68.8,110.0 63.3,110.5" fill="#2a2a2a" stroke="none" stroke-width="1" />
<polygon points="63.3,121.9 72.8,123.0 63.3,123.5" fill="#2a2a2a" stroke="none" stroke-width="1" />
<polygon points="63.3,131.9 72.8,133.0 63.3,133.5" fill="#2a2a2a" stroke="none" stroke-width="1" />
<polygon points="63.3,136.9 70.8,138.0 63.3,138.5" fill="#2a2a2a" stroke="none" stroke-width="1" />
<polygon points="63.3,141.9 70.8,143.0 63.3,143.5" fill="#2a2a2a" stroke="none" stroke-width="1" />
<polygon points="63.3,145.9 70.8,147.0 63.3,147.5" fill="#2a2a2a" stroke="none" stroke-width="1" />
<polygon points="63.3,150.9 67.8,152.0 63.3,152.5" fill="#2a2a2a" stroke="none" stroke-width="1" />
<polygon points="63.3,155.9 70.8,157.0 63.3,157.5" fill="#2a2a2a" stroke="none" stroke-width="1" />
<polygon points="63.3,161.9 72.8,163.0 63.3,163.5" fill="#2a2a2a" stroke="none" stroke-width="1" />
<polygon points="63.3,166.9 69.8,168.0 63.3,168.5" fill="#2a2a2a" stroke="none" stroke-width="1" />
<polygon points="63.3,170.9 67.8,172.0 63.3,172.5" fill="#2a2a2a" stroke="none" stroke-width="1" />
<polygon points="63.3,176.9 71.8,178.0 63.3,178.5" fill="#2a2a2a" stroke="none" stroke-width="1" />
<polygon points="63.3,181.9 72.8,183.0 63.3,183.5" fill="#2a2a2a" stroke="none" stroke-width="1" />
<polygon points="63.3,186.9 72.8,188.0 63.3,188.5" fill="#2a2a2a" stroke="none" stroke-width="1" />
<polygon points="63.3,194.9 68.8,196.0 63.3,196.5" fill="#2a2a2a" stroke="none" stroke-width="1" />
<polygon points="63.3,199.9 67.8,201.0 63.3,201.5" fill="#2a2a2a" stroke="none" stroke-width="1" />
<polygon points="63.3,204.9 71.8,206.0 63.3,206.5" fill="#2a2a2a" stroke="none" stroke-width="1" />
<polygon points="63.3,210.9 68.8,212.0 63.3,212.5" fill="#2a2a2a" stroke="none" stroke-width="1" />
<polygon points="63.3,215.9 69.8,217.0 63.3,217.5" fill="#2a2a2a" stroke="none" stroke-width="1" />
<polygon points="63.3,220.9 69.8,222.0 63.3,222.5" fill="#2a2a2a" stroke="none" stroke-width="1" />
<polygon points="63.3,227.9 72.8,229.0 63.3,229.5" fill="#2a2a2a" stroke="none" stroke-width="1" />
<polygon points="63.3,233.9 72.8,235.0 63.3,235.5" fill="#2a2a2a" stroke="none" stroke-width="1" />
<polygon points="63.3,238.9 72.8,240.0 63.3,240.5" fill="#2a2a2a" stroke="none" stroke-width="1" />
<polygon points="63.3,243.9 69.8,245.0 63.3,245.5" fill="#2a2a2a" stroke="none" stroke-width="1" />
<polygon points="63.3,248.9 71.8,250.0 63.3,250.5" fill="#2a2a2a" stroke="none" stroke-width="1" />
<polygon points="63.3,253.9 71.8,255.0 63.3,255.5" fill="#2a2a2a" stroke="none" stroke-width="1" />
<polygon points="63.3,257.9 68.8,259.0 63.3,259.5" fill="#2a2a2a" stroke="none" stroke-width="1" />
<polygon points="63.3,261.9 67.8,263.0 63.3,263.5" fill="#2a2a2a" stroke="none" stroke-width="1" />
<polygon points="63.3,266.9 70.8,268.0 63.3,268.5" fill="#2a2a2a" stroke="none" stroke-width="1" />
<polygon points="63.3,270.9 67.8,272.0 63.3,272.5" fill="#2a2a2a" stroke="none" stroke-width="1" />
<polygon points="63.3,274.9 70.8,276.0 63.3,276.5" fill="#2a2a2a" stroke="none" stroke-width="1" />
<polygon points="63.3,280.9 69.8,282.0 63.3,282.5" fill="#2a2a2a" stroke="none" stroke-width="1" />
<polygon points="63.3,285.9 72.8,287.0 63.3,287.5" fill="#2a2a2a" stroke="none" stroke-width="1" />
<line x1="64.5" y1="103" x2="71" y2="112" stroke="#333" stroke-width="0.7" />
<line x1="64.5" y1="121" x2="71" y2="129" stroke="#333" stroke-width="0.7" />
<line x1="64.5" y1="221" x2="71" y2="226" stroke="#333" stroke-width="0.7" />
<line x1="64.5" y1="138" x2="70" y2="145" stroke="#333" stroke-width="0.7" />
<line x1="64.5" y1="206" x2="70" y2="212" stroke="#333" stroke-width="0.7" />
<text x="27.2" y="31.8" font-size="7.8" fill="#444" text-anchor="end" font-weight="normal" >0</text>
<line x1="28" y1="29.0" x2="31" y2="29.0" stroke="#333" stroke-width="0.8" />
<text x="27.2" y="72.3" font-size="7.8" fill="#444" text-anchor="end" font-weight="normal" >1</text>
<line x1="28" y1="69.5" x2="31" y2="69.5" stroke="#333" stroke-width="0.8" />
<text x="27.2" y="112.8" font-size="7.8" fill="#444" text-anchor="end" font-weight="normal" >2</text>
<line x1="28" y1="110.0" x2="31" y2="110.0" stroke="#333" stroke-width="0.8" />
<text x="27.2" y="153.3" font-size="7.8" fill="#444" text-anchor="end" font-weight="normal" >3</text>
<line x1="28" y1="150.5" x2="31" y2="150.5" stroke="#333" stroke-width="0.8" />
<text x="27.2" y="193.8" font-size="7.8" fill="#444" text-anchor="end" font-weight="normal" >4</text>
<line x1="28" y1="191.0" x2="31" y2="191.0" stroke="#333" stroke-width="0.8" />
<text x="27.2" y="234.3" font-size="7.8" fill="#444" text-anchor="end" font-weight="normal" >5</text>
<line x1="28" y1="231.5" x2="31" y2="231.5" stroke="#333" stroke-width="0.8" />
<text x="27.2" y="274.8" font-size="7.8" fill="#444" text-anchor="end" font-weight="normal" >6</text>
<line x1="28" y1="272.0" x2="31" y2="272.0" stroke="#333" stroke-width="0.8" />
<text x="27.2" y="315.3" font-size="7.8" fill="#444" text-anchor="end" font-weight="normal" >7</text>
<line x1="28" y1="312.5" x2="31" y2="312.5" stroke="#333" stroke-width="0.8" />
<text x="15.2" y="179.6" font-size="7.3" fill="#444" text-anchor="middle" font-weight="normal" transform="rotate(-90 15.2 179.6)" dominant-baseline="central">Depth (m)</text>
<line x1="73.6" y1="113" x2="73.6" y2="131" stroke="#888" stroke-width="0.6" />
<text x="75" y="120" font-size="6" fill="#555" text-anchor="start" font-weight="normal" >R</text>
<line x1="82.5" y1="113" x2="82.5" y2="120" stroke="#555" stroke-width="0.6" />
<polygon points="81.0,118.0 84.0,118.0 82.5,121.0" fill="#333" stroke="none" stroke-width="1" />
<line x1="70" y1="29.2" x2="259.5" y2="29.2" stroke="#444" stroke-width="0.8" />
<line x1="71.0" y1="28.9" x2="71.0" y2="27.3" stroke="#666" stroke-width="0.5" />
<line x1="82.8" y1="28.9" x2="82.8" y2="27.3" stroke="#666" stroke-width="0.5" />
<line x1="94.6" y1="28.9" x2="94.6" y2="27.3" stroke="#666" stroke-width="0.5" />
<line x1="106.4" y1="28.9" x2="106.4" y2="27.3" stroke="#666" stroke-width="0.5" />
<line x1="118.19999999999999" y1="28.9" x2="118.19999999999999" y2="27.3" stroke="#666" stroke-width="0.5" />
<line x1="130.0" y1="28.9" x2="130.0" y2="27.3" stroke="#666" stroke-width="0.5" />
<line x1="141.8" y1="28.9" x2="141.8" y2="27.3" stroke="#666" stroke-width="0.5" />
<line x1="153.6" y1="28.9" x2="153.6" y2="27.3" stroke="#666" stroke-width="0.5" />
<line x1="165.39999999999998" y1="28.9" x2="165.39999999999998" y2="27.3" stroke="#666" stroke-width="0.5" />
<line x1="177.2" y1="28.9" x2="177.2" y2="27.3" stroke="#666" stroke-width="0.5" />
<line x1="189.0" y1="28.9" x2="189.0" y2="27.3" stroke="#666" stroke-width="0.5" />
<line x1="200.79999999999998" y1="28.9" x2="200.79999999999998" y2="27.3" stroke="#666" stroke-width="0.5" />
<line x1="212.6" y1="28.9" x2="212.6" y2="27.3" stroke="#666" stroke-width="0.5" />
<line x1="224.4" y1="28.9" x2="224.4" y2="27.3" stroke="#666" stroke-width="0.5" />
<line x1="236.2" y1="28.9" x2="236.2" y2="27.3" stroke="#666" stroke-width="0.5" />
<line x1="248.0" y1="28.9" x2="248.0" y2="27.3" stroke="#666" stroke-width="0.5" />
<line x1="259.79999999999995" y1="28.9" x2="259.79999999999995" y2="27.3" stroke="#666" stroke-width="0.5" />
<text x="71.6" y="23.6" font-size="7.4" fill="#444" text-anchor="middle" font-weight="normal" >0</text>
<text x="118.19999999999999" y="23.6" font-size="7.4" fill="#444" text-anchor="middle" font-weight="normal" >2000</text>
<text x="165.39999999999998" y="23.6" font-size="7.4" fill="#444" text-anchor="middle" font-weight="normal" >4000</text>
<text x="212.6" y="23.6" font-size="7.4" fill="#444" text-anchor="middle" font-weight="normal" >6000</text>
<text x="259.79999999999995" y="23.6" font-size="7.4" fill="#444" text-anchor="middle" font-weight="normal" >8000</text>
<text x="145.5" y="12.8" font-size="7.6" fill="#333" text-anchor="start" font-weight="normal" >Age (cal BP)</text>
<polyline points="74.3,38.0 75.1,45.0 76.0,55.0 76.2,65.0 76.5,72.0 78.3,81.0 81.8,88.5 86.0,94.5 91.5,99.5 95.0,103.0" stroke="#a0a0a0" stroke-width="1.5" fill="none" stroke-linejoin="round" stroke-linecap="round" />
<polyline points="112.2,150.0 112.2,151.6 114.5,152.2 114.5,153.8 117.2,154.4 117.2,156.0 118.2,156.6 118.2,158.2 120.4,158.8 120.4,160.4 123.5,161.0 123.5,162.6 125.7,163.2 125.7,164.8 126.6,165.4 126.6,167.0 127.0,167.6 127.0,169.2 127.6,169.8 127.6,171.4 126.9,172.0 126.9,173.6 128.3,174.2 128.3,175.8 128.8,176.4 128.8,178.0 131.0,178.6 131.0,180.2 131.6,180.8 131.6,182.4 131.1,183.0 131.1,184.6 133.8,185.2 133.8,186.8 134.6,187.4 134.6,189.0 134.8,189.6 134.8,191.2 137.3,191.8 137.3,193.4 138.9,194.0 138.9,195.6 140.5,196.2 140.5,197.8 143.1,198.4 143.1,200.0 143.2,200.6 143.2,202.2 144.6,202.8 144.6,204.4 147.8,205.0 147.8,206.6 150.7,207.2 150.7,208.8 156.1,209.4 156.1,211.0 157.2,211.6 157.2,213.2 158.7,213.8 158.7,215.4 159.2,216.0 159.2,217.6 162.0,218.2 162.0,219.8 165.2,220.4 165.2,222.0 169.0,222.6 169.0,224.2 172.7,224.8 172.7,226.4 178.5,227.0 178.5,228.6 182.6,229.2 182.6,230.8 184.2,231.4 184.2,233.0 184.2,233.6 184.2,235.2 184.6,235.8 184.6,237.4 186.0,238.0 186.0,239.6 187.7,240.2 187.7,241.8 189.4,242.4 189.4,244.0 190.1,244.6 190.1,246.2 192.3,246.8 192.3,248.4 192.7,249.0 192.7,250.6 195.6,251.2 195.6,252.8 196.8,253.4 196.8,255.0 200.3,255.6 200.3,257.2 203.5,257.8 203.5,259.4 206.8,260.0 206.8,261.6 210.2,262.2 210.2,263.8 213.9,264.4 213.9,266.0 214.7,266.6 214.7,268.2 217.8,268.8 217.8,270.4 219.7,271.0 219.7,272.6 221.7,273.2 221.7,274.8" stroke="#6a6a6a" stroke-width="0.8" fill="none" stroke-linejoin="round" stroke-linecap="round" />
<polyline points="119.8,150.0 119.8,151.6 122.2,152.2 122.2,153.8 123.1,154.4 123.1,156.0 124.6,156.6 124.6,158.2 127.2,158.8 127.2,160.4 131.5,161.0 131.5,162.6 134.0,163.2 134.0,164.8 133.0,165.4 133.0,167.0 133.5,167.6 133.5,169.2 133.4,169.8 133.4,171.4 134.0,172.0 134.0,173.6 136.4,174.2 136.4,175.8 136.2,176.4 136.2,178.0 137.7,178.6 137.7,180.2 138.3,180.8 138.3,182.4 138.6,183.0 138.6,184.6 140.5,185.2 140.5,186.8 140.1,187.4 140.1,189.0 142.0,189.6 142.0,191.2 143.5,191.8 143.5,193.4 146.6,194.0 146.6,195.6 148.1,196.2 148.1,197.8 149.8,198.4 149.8,200.0 152.3,200.6 152.3,202.2 153.0,202.8 153.0,204.4 155.1,205.0 155.1,206.6 159.6,207.2 159.6,208.8 162.8,209.4 162.8,211.0 164.3,211.6 164.3,213.2 165.9,213.8 165.9,215.4 166.7,216.0 166.7,217.6 168.1,218.2 168.1,219.8 173.4,220.4 173.4,222.0 175.3,222.6 175.3,224.2 179.5,224.8 179.5,226.4 186.7,227.0 186.7,228.6 188.5,229.2 188.5,230.8 190.0,231.4 190.0,233.0 189.9,233.6 189.9,235.2 190.6,235.8 190.6,237.4 193.8,238.0 193.8,239.6 195.0,240.2 195.0,241.8 197.2,242.4 197.2,244.0 197.9,244.6 197.9,246.2 198.9,246.8 198.9,248.4 201.0,249.0 201.0,250.6 202.0,251.2 202.0,252.8 204.3,253.4 204.3,255.0 207.4,255.6 207.4,257.2 209.4,257.8 209.4,259.4 214.3,260.0 214.3,261.6 218.8,262.2 218.8,263.8 220.9,264.4 220.9,266.0 221.5,266.6 221.5,268.2 223.4,268.8 223.4,270.4 227.6,271.0 227.6,272.6 230.6,273.2 230.6,274.8" stroke="#6a6a6a" stroke-width="0.8" fill="none" stroke-linejoin="round" stroke-linecap="round" />
<polyline points="74.8,37.0 78.0,49.5 80.5,64.0 81.3,74.0 83.0,81.0 85.4,88.0 87.0,92.0 92.0,97.0 96.0,101.8 97.7,103.4 97.7,130.0 103.0,132.7 108.6,141.0 113.0,147.0 117.5,151.6 123.3,158.3 129.9,163.2 130.7,170.6 133.2,176.4 135.6,183.0 138.1,189.6 143.9,194.6 146.4,197.9 148.8,202.8 154.6,206.9 160.4,209.7 162.0,215.2 164.5,217.7 175.0,224.3 183.7,227.4 186.8,231.0 187.4,235.4 191.1,239.1 194.2,243.5 196.0,248.4 199.8,252.7 204.7,257.1 210.9,259.6 215.8,263.3 219.6,268.2 223.9,271.3 227.6,274.4" stroke="#111" stroke-width="2.3" fill="none" stroke-linejoin="round" stroke-linecap="round" />
<polyline points="70.6,29.0 72.5,32.5 74.8,36.5" stroke="#1b9a8c" stroke-width="2.2" fill="none" stroke-linejoin="round" stroke-linecap="round" />
<line x1="78.3" y1="64" x2="84.3" y2="64" stroke="#2e6fb5" stroke-width="0.9" />
<ellipse cx="81.3" cy="64" rx="2.3" ry="1.8" fill="#2a64ad"/>
<line x1="82.4" y1="91" x2="88.4" y2="91" stroke="#2e6fb5" stroke-width="0.9" />
<ellipse cx="85.4" cy="91" rx="2.3" ry="1.8" fill="#2a64ad"/>
<line x1="93" y1="101.5" x2="99" y2="101.5" stroke="#2e6fb5" stroke-width="0.9" />
<ellipse cx="96" cy="101.5" rx="2.3" ry="1.8" fill="#2a64ad"/>
<line x1="96.5" y1="123" x2="102.5" y2="123" stroke="#2e6fb5" stroke-width="0.9" />
<ellipse cx="99.5" cy="123" rx="2.3" ry="1.8" fill="#2a64ad"/>
<line x1="105.6" y1="141" x2="111.6" y2="141" stroke="#2e6fb5" stroke-width="0.9" />
<ellipse cx="108.6" cy="141" rx="2.3" ry="1.8" fill="#2a64ad"/>
<line x1="115" y1="152" x2="121" y2="152" stroke="#2e6fb5" stroke-width="0.9" />
<ellipse cx="118" cy="152" rx="2.3" ry="1.8" fill="#2a64ad"/>
<line x1="126.0" y1="170.6" x2="137.0" y2="170.6" stroke="#2e6fb5" stroke-width="0.9" />
<ellipse cx="131.5" cy="170.6" rx="2.3" ry="1.8" fill="#2a64ad"/>
<line x1="153.4" y1="209.7" x2="167.4" y2="209.7" stroke="#2e6fb5" stroke-width="0.9" />
<ellipse cx="160.4" cy="209.7" rx="2.3" ry="1.8" fill="#2a64ad"/>
<line x1="185.2" y1="243" x2="201.2" y2="243" stroke="#2e6fb5" stroke-width="0.9" />
<ellipse cx="193.2" cy="243" rx="2.3" ry="1.8" fill="#2a64ad"/>
<line x1="207.4" y1="259.6" x2="219.4" y2="259.6" stroke="#2e6fb5" stroke-width="0.9" />
<ellipse cx="213.4" cy="259.6" rx="2.3" ry="1.8" fill="#2a64ad"/>
<ellipse cx="84" cy="55.8" rx="1.9" ry="1.1" fill="#e0303c"/>
<ellipse cx="91" cy="80.8" rx="2.7" ry="1.3" fill="#e0303c"/>
<line x1="79" y1="36.5" x2="163.6" y2="64.6" stroke="#222" stroke-width="0.9" />
<polygon points="77.2,36.0 83.0,36.2 81.2,39.8" fill="#222" stroke="none" stroke-width="1" />
<text x="171.2" y="65.4" font-size="7.8" fill="#444" text-anchor="middle" font-weight="normal" transform="rotate(-90 171.2 65.4)" dominant-baseline="central">Depth</text>
<line x1="178.5" y1="40.5" x2="178.5" y2="95.8" stroke="#222" stroke-width="1.1" />
<defs><linearGradient id="ph" x1="0" y1="0" x2="0.4" y2="1">
<stop offset="0" stop-color="#4d6640"/><stop offset="0.3" stop-color="#62784c"/><stop offset="0.55" stop-color="#6e8052"/><stop offset="0.8" stop-color="#74845a"/><stop offset="1" stop-color="#7a8a5c"/></linearGradient>
<clipPath id="phc"><rect x="180.9" y="40.5" width="31" height="55.3"/></clipPath></defs>
<rect x="180.9" y="40.5" width="31" height="55.3" fill="url(#ph)" stroke="none" stroke-width="1" />
<g clip-path="url(#phc)">
<path d="M178 48 Q196 41 214 43" stroke="#7a9068" stroke-width="2" fill="none" opacity="0.3"/>
<path d="M178 54 Q196 47 214 49" stroke="#8fa27a" stroke-width="1.5" fill="none" opacity="0.3"/>
<path d="M178 60 Q196 53 214 55" stroke="#93a47c" stroke-width="2.5" fill="none" opacity="0.3"/>
<path d="M178 66 Q196 59 214 61" stroke="#a0b088" stroke-width="1.5" fill="none" opacity="0.3"/>
<path d="M178 72 Q196 65 214 67" stroke="#8a9c70" stroke-width="2" fill="none" opacity="0.3"/>
<path d="M178 79 Q196 72 214 74" stroke="#9cac84" stroke-width="2" fill="none" opacity="0.3"/>
<path d="M178 86 Q196 79 214 81" stroke="#889a6c" stroke-width="1.5" fill="none" opacity="0.3"/>
<path d="M178 92 Q196 85 214 87" stroke="#a4b28a" stroke-width="2" fill="none" opacity="0.3"/>
<path d="M178 97 Q196 90 214 92" stroke="#94a47a" stroke-width="1.5" fill="none" opacity="0.3"/>
<ellipse cx="190" cy="50" rx="8" ry="5" fill="#3f5a36" opacity="0.5"/><ellipse cx="205" cy="80" rx="7" ry="9" fill="#5d7048" opacity="0.4"/><ellipse cx="186" cy="88" rx="6" ry="5" fill="#8a9a6c" opacity="0.4"/>
</g>
<rect x="213.8" y="40.5" width="52.4" height="55.3" fill="#fff" stroke="none" stroke-width="1" />
<rect x="214.3" y="52.3" width="51.4" height="37.6" fill="#f9a0a2" stroke="none" stroke-width="1" />
<text x="247.5" y="72.6" font-size="6.8" fill="#a03040" text-anchor="middle" font-weight="normal" >Event</text>
<clipPath id="evc"><rect x="213.8" y="40.5" width="52.4" height="55.3"/></clipPath><g clip-path="url(#evc)">
<path d="M224 40 L232.4 53.6 L232.4 90 L239.7 96.3" stroke="#4a545a" stroke-width="5.6" fill="none"/>
<path d="M224 40 L232.4 53.6 L232.4 90 L239.7 96.3" stroke="#b4bcc0" stroke-width="3.4" fill="none"/>
<path d="M224 40 L232.4 53.6 L232.4 90 L239.7 96.3" stroke="#8a9296" stroke-width="0.8" fill="none"/>
</g>
<rect x="213.8" y="40.5" width="52.4" height="55.3" fill="none" stroke="#222" stroke-width="1.1" />
<text x="240.5" y="37" font-size="7" fill="#444" text-anchor="middle" font-weight="normal" >Age</text>
<rect x="177.8" y="106" width="91.8" height="87.5" fill="none" stroke="#222" stroke-width="1.3" />
<text x="174.5" y="112.10000000000001" font-size="7.4" fill="#333" text-anchor="end" font-weight="normal" >0</text>
<line x1="177.8" y1="109.4" x2="180" y2="109.4" stroke="#333" stroke-width="0.7" />
<text x="174.5" y="152.89999999999998" font-size="7.4" fill="#333" text-anchor="end" font-weight="normal" >1</text>
<line x1="177.8" y1="150.2" x2="180" y2="150.2" stroke="#333" stroke-width="0.7" />
<text x="174.5" y="193.7" font-size="7.4" fill="#333" text-anchor="end" font-weight="normal" >2</text>
<line x1="177.8" y1="191.0" x2="180" y2="191.0" stroke="#333" stroke-width="0.7" />
<line x1="177.8" y1="129.8" x2="179.5" y2="129.8" stroke="#333" stroke-width="0.7" />
<line x1="177.8" y1="170.6" x2="179.5" y2="170.6" stroke="#333" stroke-width="0.7" />
<text x="181.7" y="204.6" font-size="7.2" fill="#333" text-anchor="middle" font-weight="normal" >0</text>
<line x1="181.7" y1="193.5" x2="181.7" y2="191.5" stroke="#333" stroke-width="0.7" />
<text x="206.79999999999998" y="204.6" font-size="7.2" fill="#333" text-anchor="middle" font-weight="normal" >2000</text>
<line x1="206.79999999999998" y1="193.5" x2="206.79999999999998" y2="191.5" stroke="#333" stroke-width="0.7" />
<text x="231.89999999999998" y="204.6" font-size="7.2" fill="#333" text-anchor="middle" font-weight="normal" >4000</text>
<line x1="231.89999999999998" y1="193.5" x2="231.89999999999998" y2="191.5" stroke="#333" stroke-width="0.7" />
<text x="257.0" y="204.6" font-size="7.2" fill="#333" text-anchor="middle" font-weight="normal" >6000</text>
<line x1="257.0" y1="193.5" x2="257.0" y2="191.5" stroke="#333" stroke-width="0.7" />
<text x="228.7" y="212.6" font-size="7.0" fill="#333" text-anchor="middle" font-weight="normal" >yr cal BP</text>
<text x="162.4" y="148" font-size="8.6" fill="#333" text-anchor="middle" font-weight="normal" transform="rotate(-90 162.4 148)" dominant-baseline="central">Depth (m)*</text>
<polyline points="180.9,108.4 183.7,113.6 186.8,118.6 188.0,122.9 189.2,126.6 192.3,129.1 197.9,132.2 201.6,135.3 204.1,139.6 206.0,142.7 209.7,146.4 215.8,152.0 222.6,159.4 229.4,165.5 237.0,170.5 246.4,174.8 253.0,179.5 258.7,184.8 263.4,189.5 265.7,191.0" stroke="#151515" stroke-width="2.0" fill="none" stroke-linejoin="round" stroke-linecap="round" />
<line x1="184.9" y1="120" x2="189.9" y2="120" stroke="#3a7fc0" stroke-width="0.9" />
<circle cx="187.4" cy="120" r="0.9" fill="#2a64ad"/>
<line x1="195.5" y1="132.2" x2="200.5" y2="132.2" stroke="#3a7fc0" stroke-width="0.9" />
<circle cx="198" cy="132.2" r="0.9" fill="#2a64ad"/>
<line x1="201.5" y1="138.5" x2="206.5" y2="138.5" stroke="#3a7fc0" stroke-width="0.9" />
<circle cx="204" cy="138.5" r="0.9" fill="#2a64ad"/>
<line x1="207.5" y1="147" x2="212.5" y2="147" stroke="#3a7fc0" stroke-width="0.9" />
<circle cx="210" cy="147" r="0.9" fill="#2a64ad"/>
<line x1="211.5" y1="151" x2="216.5" y2="151" stroke="#3a7fc0" stroke-width="0.9" />
<circle cx="214" cy="151" r="0.9" fill="#2a64ad"/>
<line x1="226.9" y1="165.5" x2="231.9" y2="165.5" stroke="#3a7fc0" stroke-width="0.9" />
<circle cx="229.4" cy="165.5" r="0.9" fill="#2a64ad"/>
<line x1="243.9" y1="174.8" x2="248.9" y2="174.8" stroke="#3a7fc0" stroke-width="0.9" />
<circle cx="246.4" cy="174.8" r="0.9" fill="#2a64ad"/>
<line x1="256.2" y1="184.8" x2="261.2" y2="184.8" stroke="#3a7fc0" stroke-width="0.9" />
<circle cx="258.7" cy="184.8" r="0.9" fill="#2a64ad"/>
<line x1="260.5" y1="189" x2="265.5" y2="189" stroke="#3a7fc0" stroke-width="0.9" />
<circle cx="263" cy="189" r="0.9" fill="#2a64ad"/>
<ellipse cx="187.4" cy="118.6" rx="1.6" ry="1" fill="#d04060"/>
<ellipse cx="193" cy="122.9" rx="2.6" ry="1.5" fill="#e0303c"/>
<polygon points="96.8,280.6 100.5,277.8 104.2,280.6 100.5,283.4" fill="#1a8a80" stroke="none" stroke-width="1" />
<ellipse cx="100.5" cy="280.6" rx="2.8" ry="2.6" fill="#1a8a80"/>
<text x="112.5" y="283.3" font-size="8" fill="#333" text-anchor="start" font-weight="normal" ><tspan font-size="5" dy="-3">210</tspan><tspan dy="3">Pbex and </tspan><tspan font-size="5" dy="-3">137</tspan><tspan dy="3">Cs chronology</tspan></text>
<line x1="94.1" y1="293.9" x2="108.3" y2="293.9" stroke="#1a5ab0" stroke-width="1.1" />
<ellipse cx="99.8" cy="293.9" rx="4.3" ry="2.8" fill="#1a5ab0"/>
<text x="112.5" y="297.1" font-size="8" fill="#333" text-anchor="start" font-weight="normal" ><tspan font-size="5" dy="-3">14</tspan><tspan dy="3">C ages</tspan></text>
<line x1="93.7" y1="306.1" x2="106.5" y2="306.1" stroke="#3a4aa8" stroke-width="1.1" />
<ellipse cx="100.5" cy="306.1" rx="4.8" ry="2.7" fill="#3a4aa8"/>
<ellipse cx="100.5" cy="306.1" rx="3.2" ry="2.3" fill="#d0305a"/>
<text x="111.8" y="310.1" font-size="8" fill="#333" text-anchor="start" font-weight="normal" >Rejected <tspan font-size="5" dy="-3">14</tspan><tspan dy="3">C ages</tspan></text>
<path d="M96.3 318 L98.3 324" stroke="#888" stroke-width="0.8"/>
<path d="M99.6 317.8 Q101.5 318.5 101.8 324.2" stroke="#111" stroke-width="1.9" fill="none"/>
<path d="M102.8 318 L104.6 324" stroke="#888" stroke-width="0.8"/>
<text x="112.8" y="323.3" font-size="8" fill="#333" text-anchor="start" font-weight="normal" >Smooth spline (2σ)</text>
<circle cx="101.3" cy="334.3" r="0.9" fill="#333"/>
<text x="112.8" y="338.8" font-size="8" fill="#333" text-anchor="start" font-weight="normal" >Event-deposit free sediment depth</text>
<text x="281.6" y="13.5" font-size="9" fill="#444" text-anchor="middle" font-weight="normal" >C</text>
<text x="287.5" y="112" font-size="9.6" fill="#333" text-anchor="middle" font-weight="normal" transform="rotate(90 287.5 112)" dominant-baseline="central">Event-deposit free sediment depth (cm)</text>
<line x1="311.5" y1="14.5" x2="476" y2="14.5" stroke="#333" stroke-width="1.1" />
<line x1="476" y1="14.5" x2="476" y2="198" stroke="#333" stroke-width="1.1" />
<polygon points="312.0,15.0 318.0,28.0 324.0,42.0 331.5,62.0 338.0,72.0 344.3,81.1 348.6,88.6 353.6,96.0 361.0,103.4 367.2,109.6 373.4,114.6 378.3,117.0 384.5,123.2 389.5,129.4 397.0,137.0 403.0,143.5 410.0,151.5 424.0,166.0 438.9,180.4 447.0,188.5 454.7,196.3 456.0,198.0 475.0,198.0 475.0,196.0 473.5,190.0 466.0,184.0 458.0,178.0 447.5,168.9 436.0,154.0 424.4,140.0 411.0,126.0 394.4,110.8 384.5,101.0 372.0,89.8 366.0,82.0 357.0,72.0 349.0,63.0 340.5,54.8 333.0,46.0 326.0,37.0 320.0,24.0 313.0,14.5" fill="#fce0d2" stroke="#e8b49c" stroke-width="0.6" />
<polyline points="368.4,97.2 374.0,102.0 378.3,105.0 386.5,111.5 395.6,119.8 403.8,128.0 411.3,136.3 417.0,143.5 424.4,150.8 431.5,158.0 438.9,165.3 446.0,172.8 453.3,180.4 458.0,186.0" stroke="#5a2a22" stroke-width="8.0" fill="none" stroke-linejoin="round" stroke-linecap="round" opacity="0.6"/>
<polyline points="327.0,41.0 333.0,50.0 340.0,59.0 347.0,67.0 354.0,76.0 362.0,85.0 371.0,94.0 379.0,101.5 387.0,108.5 393.0,116.0 401.0,126.0 409.0,136.0 417.0,146.0 425.0,155.0 433.0,164.0 441.0,173.0 449.0,181.0 456.0,188.5 462.0,194.0 467.6,197.6" stroke="#f2a890" stroke-width="2.6" fill="none" stroke-linejoin="round" stroke-linecap="round" />
<polyline points="327.0,41.0 333.0,50.0 340.0,59.0 347.0,67.0 354.0,76.0 362.0,85.0 371.0,94.0 379.0,101.5 387.0,108.5 393.0,116.0 401.0,126.0 409.0,136.0 417.0,146.0 425.0,155.0 433.0,164.0 441.0,173.0 449.0,181.0 456.0,188.5 462.0,194.0 467.6,197.6" stroke="#e0503a" stroke-width="0.9" fill="none" stroke-linejoin="round" stroke-linecap="round" />
<polyline points="325.7,40.0 329.8,48.0 334.8,58.0 340.0,66.0 345.5,73.7 351.0,81.8 359.8,89.8 368.4,97.2 374.0,102.0 378.3,105.0 386.5,111.5 395.6,119.8 403.8,128.0 411.3,136.3 417.0,143.5 424.4,150.8 431.5,158.0 438.9,165.3 446.0,172.8 453.3,180.4 458.0,186.0" stroke="#8a3a30" stroke-width="4.6" fill="none" stroke-linejoin="round" stroke-linecap="round" opacity="0.5"/>
<polyline points="325.7,40.0 329.8,48.0 334.8,58.0 340.0,66.0 345.5,73.7 351.0,81.8 359.8,89.8 368.4,97.2 374.0,102.0 378.3,105.0 386.5,111.5 395.6,119.8 403.8,128.0 411.3,136.3 417.0,143.5 424.4,150.8 431.5,158.0 438.9,165.3 446.0,172.8 453.3,180.4 458.0,186.0" stroke="#3a1410" stroke-width="3.2" fill="none" stroke-linejoin="round" stroke-linecap="round" opacity="0.9"/>
<polyline points="325.7,40.0 329.8,48.0 334.8,58.0 340.0,66.0 345.5,73.7 351.0,81.8 359.8,89.8 368.4,97.2 374.0,102.0 378.3,105.0 386.5,111.5 395.6,119.8 403.8,128.0 411.3,136.3 417.0,143.5 424.4,150.8 431.5,158.0 438.9,165.3 446.0,172.8 453.3,180.4 458.0,186.0" stroke="#0c0c0c" stroke-width="2.0" fill="none" stroke-linejoin="round" stroke-linecap="round" />
<polyline points="312.0,15.0 316.0,22.5 320.4,30.0 323.0,35.0 325.7,40.0" stroke="#1f9a55" stroke-width="2.4" fill="none" stroke-linejoin="round" stroke-linecap="round" />
<polyline points="312.3,15.5 315.0,21.5 318.0,28.0" stroke="#8a6a30" stroke-width="1.0" fill="none" stroke-linejoin="round" stroke-linecap="round" />
<polygon points="372.2,100.5 373.6,88.0 374.4,87.0 375.2,88.0 376.2,100.5" fill="#e8473a" stroke="none" stroke-width="1" />
<line x1="353" y1="101.3" x2="376" y2="101.3" stroke="#f08a7a" stroke-width="1.0" />
<polygon points="401.2,140.4 403.9,135.6 404.7,134.6 405.5,135.6 408.2,140.4" fill="#e8473a" stroke="none" stroke-width="1" />
<polygon points="416.0,140.4 418.7,134.8 419.5,133.8 420.3,134.8 423.0,140.4" fill="#e8473a" stroke="none" stroke-width="1" />
<line x1="392.3" y1="140.4" x2="427.8" y2="140.4" stroke="#f08a7a" stroke-width="1.0" />
<polygon points="458.0,183.5 461.2,179.2 462.0,178.2 462.8,179.2 465.5,183.5" fill="#e8473a" stroke="none" stroke-width="1" />
<line x1="438" y1="188.6" x2="449" y2="188.6" stroke="#f4a0a0" stroke-width="1.2" />
<rect x="331.5" y="63.9" width="8.2" height="3.1" fill="#2f6fc0" stroke="none" stroke-width="1" />
<rect x="343.8" y="78.7" width="6.6" height="5.8" fill="#8a46b4" stroke="none" stroke-width="1" />
<rect x="343.8" y="81.8" width="34.7" height="2.6" fill="#2f6fc0" stroke="none" stroke-width="1" />
<rect x="384" y="112" width="8.3" height="2.5" fill="#2f6fc0" stroke="none" stroke-width="1" />
<rect x="386.5" y="113.3" width="10.7" height="2.6" fill="#8a46b4" stroke="none" stroke-width="1" />
<rect x="384" y="112" width="8.3" height="1.8" fill="#2f6fc0" stroke="none" stroke-width="1" />
<rect x="418.7" y="150.8" width="9.1" height="2.6" fill="#2f6fc0" stroke="none" stroke-width="1" />
<rect x="448.2" y="182.8" width="17.6" height="5.6" fill="#8a46b4" stroke="none" stroke-width="1" />
<text x="345.2" y="54.8" font-size="9.6" fill="#111" text-anchor="start" font-weight="bold" >D-1</text>
<line x1="339.7" y1="60.5" x2="345.5" y2="54.8" stroke="#111" stroke-width="0.8" />
<text x="361" y="69.6" font-size="9.6" fill="#111" text-anchor="start" font-weight="bold" >I-1</text>
<line x1="354.6" y1="75.4" x2="360.3" y2="69.6" stroke="#111" stroke-width="0.8" />
<text x="373.5" y="78.7" font-size="9.6" fill="#111" text-anchor="start" font-weight="bold" >D-2</text>
<line x1="370.2" y1="80.3" x2="373.5" y2="77.9" stroke="#111" stroke-width="0.8" />
<text x="394.8" y="103.3" font-size="9.6" fill="#111" text-anchor="start" font-weight="bold" >D-3</text>
<line x1="389.8" y1="109.9" x2="393.9" y2="104.9" stroke="#111" stroke-width="0.8" />
<text x="399.7" y="111.5" font-size="9.6" fill="#111" text-anchor="start" font-weight="bold" >I-2</text>
<line x1="396.4" y1="112.3" x2="399.7" y2="109.9" stroke="#111" stroke-width="0.8" />
<text x="436.8" y="144.5" font-size="9.6" fill="#111" text-anchor="start" font-weight="bold" >D-4</text>
<line x1="431.9" y1="149.5" x2="436" y2="146.2" stroke="#111" stroke-width="0.8" />
<text x="462.7" y="173" font-size="9.6" fill="#111" text-anchor="start" font-weight="bold" >I-3</text>
<line x1="466.4" y1="182.2" x2="471.4" y2="175.4" stroke="#111" stroke-width="0.8" />
<line x1="311.5" y1="14.5" x2="311.5" y2="198" stroke="#333" stroke-width="1.3" />
<line x1="311.5" y1="198" x2="476" y2="198" stroke="#333" stroke-width="1.3" />
<line x1="308.5" y1="14.5" x2="311.5" y2="14.5" stroke="#333" stroke-width="0.9" />
<text x="304.2" y="17.2" font-size="7.5" fill="#333" text-anchor="end" font-weight="normal" >0</text>
<line x1="308.5" y1="37.3" x2="311.5" y2="37.3" stroke="#333" stroke-width="0.9" />
<line x1="308.5" y1="60.099999999999994" x2="311.5" y2="60.099999999999994" stroke="#333" stroke-width="0.9" />
<text x="304.2" y="62.8" font-size="7.5" fill="#333" text-anchor="end" font-weight="normal" >20</text>
<line x1="308.5" y1="82.89999999999999" x2="311.5" y2="82.89999999999999" stroke="#333" stroke-width="0.9" />
<line x1="308.5" y1="105.69999999999999" x2="311.5" y2="105.69999999999999" stroke="#333" stroke-width="0.9" />
<text x="304.2" y="108.39999999999999" font-size="7.5" fill="#333" text-anchor="end" font-weight="normal" >40</text>
<line x1="308.5" y1="128.5" x2="311.5" y2="128.5" stroke="#333" stroke-width="0.9" />
<line x1="308.5" y1="151.29999999999998" x2="311.5" y2="151.29999999999998" stroke="#333" stroke-width="0.9" />
<text x="304.2" y="153.99999999999997" font-size="7.5" fill="#333" text-anchor="end" font-weight="normal" >60</text>
<line x1="308.5" y1="174.1" x2="311.5" y2="174.1" stroke="#333" stroke-width="0.9" />
<line x1="308.5" y1="196.89999999999998" x2="311.5" y2="196.89999999999998" stroke="#333" stroke-width="0.9" />
<text x="304.2" y="199.59999999999997" font-size="7.5" fill="#333" text-anchor="end" font-weight="normal" >80</text>
<line x1="311.5" y1="198" x2="311.5" y2="202.5" stroke="#333" stroke-width="1.0" />
<text x="311.5" y="211.4" font-size="7.2" fill="#333" text-anchor="middle" font-weight="normal" >2000</text>
<line x1="334.24" y1="198" x2="334.24" y2="202.5" stroke="#333" stroke-width="1.0" />
<line x1="356.98" y1="198" x2="356.98" y2="202.5" stroke="#333" stroke-width="1.0" />
<text x="356.98" y="211.4" font-size="7.2" fill="#333" text-anchor="middle" font-weight="normal" >1600</text>
<line x1="379.72" y1="198" x2="379.72" y2="202.5" stroke="#333" stroke-width="1.0" />
<line x1="402.46" y1="198" x2="402.46" y2="202.5" stroke="#333" stroke-width="1.0" />
<text x="402.46" y="211.4" font-size="7.2" fill="#333" text-anchor="middle" font-weight="normal" >1200</text>
<line x1="425.2" y1="198" x2="425.2" y2="202.5" stroke="#333" stroke-width="1.0" />
<line x1="447.94" y1="198" x2="447.94" y2="202.5" stroke="#333" stroke-width="1.0" />
<text x="447.94" y="211.4" font-size="7.2" fill="#333" text-anchor="middle" font-weight="normal" >800</text>
<line x1="470.68" y1="198" x2="470.68" y2="202.5" stroke="#333" stroke-width="1.0" />
<text x="301" y="225.3" font-size="10.5" fill="#111" text-anchor="start" font-weight="bold"  textLength="48" lengthAdjust="spacingAndGlyphs">ALO09P12</text>
<text x="369.8" y="225.5" font-size="9.4" fill="#333" text-anchor="start" font-weight="normal"  textLength="51.2" lengthAdjust="spacingAndGlyphs">Age (year AD)</text>
<rect x="311.5" y="14.5" width="10" height="15.5" fill="none" stroke="#333" stroke-width="0.7" />
<line x1="321.5" y1="17.5" x2="402" y2="17.5" stroke="#333" stroke-width="0.7" />
<polygon points="403.5,17.5 400.0,16.0 400.0,19.0" fill="#333" stroke="none" stroke-width="1" />
<rect x="404" y="17" width="69.4" height="74" fill="#f5f5f5" stroke="#444" stroke-width="0.9" />
<line x1="417" y1="30.4" x2="468.7" y2="30.4" stroke="#555" stroke-width="0.7" />
<line x1="417" y1="30.4" x2="417" y2="87.5" stroke="#555" stroke-width="0.7" />
<line x1="417.0" y1="30.4" x2="417.0" y2="28.4" stroke="#555" stroke-width="0.6" />
<line x1="429.4" y1="30.4" x2="429.4" y2="28.4" stroke="#555" stroke-width="0.6" />
<line x1="441.8" y1="30.4" x2="441.8" y2="28.4" stroke="#555" stroke-width="0.6" />
<line x1="454.2" y1="30.4" x2="454.2" y2="28.4" stroke="#555" stroke-width="0.6" />
<line x1="466.6" y1="30.4" x2="466.6" y2="28.4" stroke="#555" stroke-width="0.6" />
<line x1="415" y1="30.4" x2="417" y2="30.4" stroke="#555" stroke-width="0.6" />
<line x1="415" y1="48" x2="417" y2="48" stroke="#555" stroke-width="0.6" />
<line x1="415" y1="65.5" x2="417" y2="65.5" stroke="#555" stroke-width="0.6" />
<line x1="415" y1="83" x2="417" y2="83" stroke="#555" stroke-width="0.6" />
<text x="424" y="25.2" font-size="7.1" fill="#333" text-anchor="middle" font-weight="normal" >2000</text>
<text x="460.8" y="25.2" font-size="7.1" fill="#333" text-anchor="middle" font-weight="normal" >1940</text>
<text x="411.5" y="33" font-size="7.3" fill="#333" text-anchor="end" font-weight="normal" >0</text>
<text x="413.5" y="68" font-size="7.3" fill="#333" text-anchor="end" font-weight="normal" >5</text>
<polyline points="417.0,30.4 425.0,38.3 432.7,46.2 439.5,53.2 445.9,60.3 451.5,67.5 456.4,74.5 461.0,79.5 467.3,84.2" stroke="#1f9a55" stroke-width="1.8" fill="none" stroke-linejoin="round" stroke-linecap="round" />
<polygon points="432.7,43.6 435.3,46.2 432.7,48.8 430.1,46.2" fill="#e0402e" stroke="none" stroke-width="1" />
<rect x="445.6" y="56.6" width="3.4" height="7.4" fill="#e0402e" stroke="none" stroke-width="1" />
<rect x="443.6" y="58.6" width="7.4" height="3.4" fill="#e0402e" stroke="none" stroke-width="1" />
<text x="435.2" y="44.3" font-size="7.2" fill="#333" text-anchor="start" font-weight="normal" >C</text>
<text x="450.3" y="56.8" font-size="7.0" fill="#333" text-anchor="start" font-weight="normal" >MP</text>
<text x="284.5" y="238.5" font-size="8.4" fill="#222" text-anchor="start" font-weight="normal" >Radiochronology</text>
<line x1="286" y1="244.5" x2="299" y2="252.5" stroke="#1f9a55" stroke-width="2.8" />
<text x="305" y="252.5" font-size="8.4" fill="#222" text-anchor="start" font-weight="normal" ><tspan font-size="5" dy="-3">210</tspan><tspan dy="3">Pb</tspan></text>
<rect x="336" y="246" width="11.5" height="8" fill="#e03a2c" stroke="none" stroke-width="1" />
<text x="350.5" y="253" font-size="8.4" fill="#222" text-anchor="start" font-weight="normal" ><tspan font-size="5" dy="-3">137</tspan><tspan dy="3">Cs</tspan></text>
<path d="M281 268.5 L284 268.5 L285 261 L286.5 259.5 L288 262.5 L289.5 260 L291 268.5 L293 268.5 L294.2 263.5 L295.5 268.5 L296.5 263 L297.8 268.5 L304 268.5 Z" fill="#e0301e"/>
<line x1="280" y1="268.5" x2="304.5" y2="268.5" stroke="#e0301e" stroke-width="0.8" />
<text x="306" y="269" font-size="8.4" fill="#222" text-anchor="start" font-weight="normal" ><tspan font-size="5" dy="-3">14</tspan><tspan dy="3">C ages</tspan></text>
<text x="385.4" y="238.5" font-size="8.4" fill="#222" text-anchor="start" font-weight="normal" >Paleomagnetic features</text>
<rect x="384.8" y="246" width="17.5" height="6.5" fill="#2f6fc0" stroke="none" stroke-width="1" />
<text x="408.8" y="252" font-size="8" fill="#222" text-anchor="start" font-weight="normal"  textLength="56.7" lengthAdjust="spacingAndGlyphs">Declination (D-x)</text>
<rect x="384.8" y="259" width="17.5" height="6.2" fill="#8a46b4" stroke="none" stroke-width="1" />
<text x="408.8" y="265" font-size="8" fill="#222" text-anchor="start" font-weight="normal"  textLength="49.6" lengthAdjust="spacingAndGlyphs">Inclination (I-x)</text>
<text x="284.5" y="298.5" font-size="8.8" fill="#222" text-anchor="start" font-weight="normal"  textLength="77" lengthAdjust="spacingAndGlyphs">Age-depth modelling</text>
<text x="366" y="298.5" font-size="8" fill="#222" text-anchor="start" font-weight="normal"  textLength="85.4" lengthAdjust="spacingAndGlyphs">(95% confidence range)</text>
<polygon points="280.0,311.0 293.0,307.0 308.0,316.0 295.0,321.6" fill="#8a8a8a" stroke="none" stroke-width="1" />
<polygon points="281.5,311.5 293.0,308.0 306.5,316.0 295.0,320.3" fill="#c4c4c4" stroke="none" stroke-width="1" />
<path d="M287 309.5 L301.5 318.5" stroke="#111" stroke-width="2"/>
<text x="313" y="315.5" font-size="7.2" fill="#333" text-anchor="start" font-weight="normal" >relationship based on a multi-approach dating</text>
<polygon points="280.0,334.0 293.0,330.0 308.0,340.0 295.0,346.0" fill="#c89070" stroke="none" stroke-width="1" />
<polygon points="281.5,334.5 293.0,331.0 306.5,340.0 295.0,344.5" fill="#f8c8a8" stroke="none" stroke-width="1" />
<path d="M287 332.5 L301.5 342.5" stroke="#e03020" stroke-width="1.6"/>
<text x="313" y="336.5" font-size="7.2" fill="#333" text-anchor="start" font-weight="normal" >relationship based on a multi-approach dating</text>
<text x="313" y="343.5" font-size="7.2" fill="#111" text-anchor="start" font-weight="bold" >(without magnetic declination features)</text>
<text x="12.6" y="363.8" font-size="9.3" fill="#444" text-anchor="middle" font-weight="normal" >B</text>
<rect x="43.4" y="398.2" width="148.4" height="5.800000000000011" fill="#d6d6d6" stroke="none" stroke-width="1" />
<rect x="43.4" y="453.0" width="148.4" height="5.100000000000023" fill="#d6d6d6" stroke="none" stroke-width="1" />
<rect x="43.4" y="477.4" width="148.4" height="4.900000000000034" fill="#d6d6d6" stroke="none" stroke-width="1" />
<rect x="43.4" y="493.3" width="148.4" height="19.30000000000001" fill="#d6d6d6" stroke="none" stroke-width="1" />
<polygon points="191.8,398.2 198.0,398.2 198.0,398.8 191.8,404.0" fill="#d6d6d6" stroke="none" stroke-width="1" />
<polygon points="265.0,398.2 272.0,398.2 272.0,404.0 265.0,398.8" fill="#d6d6d6" stroke="none" stroke-width="1" />
<line x1="198" y1="398.2" x2="265" y2="398.2" stroke="#e4e4e4" stroke-width="0.7" />
<rect x="272.5" y="398.2" width="184.5" height="5.800000000000011" fill="#d6d6d6" stroke="none" stroke-width="1" />
<polygon points="191.8,453.0 198.0,446.8 200.0,446.8 191.8,458.1" fill="#d6d6d6" stroke="none" stroke-width="1" />
<polygon points="264.5,446.8 272.5,453.0 272.5,458.1 266.5,446.8" fill="#d6d6d6" stroke="none" stroke-width="1" />
<line x1="198" y1="446.8" x2="265" y2="446.8" stroke="#e4e4e4" stroke-width="0.7" />
<rect x="272.5" y="453.0" width="184.5" height="5.100000000000023" fill="#d6d6d6" stroke="none" stroke-width="1" />
<polygon points="191.8,477.4 198.0,466.8 200.0,466.8 191.8,482.3" fill="#d6d6d6" stroke="none" stroke-width="1" />
<polygon points="264.5,466.8 272.5,477.4 272.5,482.3 266.5,466.8" fill="#d6d6d6" stroke="none" stroke-width="1" />
<line x1="198" y1="466.8" x2="265" y2="466.8" stroke="#e4e4e4" stroke-width="0.7" />
<rect x="272.5" y="477.4" width="184.5" height="4.900000000000034" fill="#d6d6d6" stroke="none" stroke-width="1" />
<polygon points="191.8,493.3 198.0,477.4 200.0,477.4 191.8,512.6" fill="#d6d6d6" stroke="none" stroke-width="1" />
<polygon points="264.5,477.4 272.5,493.3 272.5,512.6 266.5,477.4" fill="#d6d6d6" stroke="none" stroke-width="1" />
<line x1="198" y1="477.4" x2="265" y2="477.4" stroke="#e4e4e4" stroke-width="0.7" />
<rect x="272.5" y="493.3" width="184.5" height="19.30000000000001" fill="#d6d6d6" stroke="none" stroke-width="1" />
<defs><linearGradient id="core" x1="0" y1="0" x2="0" y2="1">
<stop offset="0" stop-color="#26241a"/><stop offset="0.02" stop-color="#3a3424"/><stop offset="0.035" stop-color="#5a5038"/><stop offset="0.07" stop-color="#8a7c54"/><stop offset="0.12" stop-color="#9a8a5e"/>
<stop offset="0.3" stop-color="#a08e62"/><stop offset="0.45" stop-color="#988a60"/><stop offset="0.5" stop-color="#8e8660"/>
<stop offset="0.56" stop-color="#8a8a6c"/><stop offset="0.62" stop-color="#92906e"/><stop offset="0.7" stop-color="#8e8c6c"/>
<stop offset="0.8" stop-color="#9a9c82"/><stop offset="1" stop-color="#8e947c"/></linearGradient>
<linearGradient id="coreh" x1="0" y1="0" x2="1" y2="0">
<stop offset="0" stop-color="#000" stop-opacity="0.12"/><stop offset="0.3" stop-color="#fff" stop-opacity="0.06"/><stop offset="0.6" stop-color="#000" stop-opacity="0.05"/><stop offset="1" stop-color="#000" stop-opacity="0.15"/></linearGradient></defs>
<rect x="27.8" y="384.6" width="15.6" height="136.2" fill="url(#core)" stroke="none" stroke-width="1" />
<rect x="27.8" y="452.5" width="15.6" height="1.2" fill="#6a7070" stroke="none" stroke-width="1" opacity="0.8"/>
<rect x="27.8" y="454.5" width="15.6" height="2.2" fill="#4a5a66" stroke="none" stroke-width="1" opacity="0.9"/>
<rect x="27.8" y="457" width="15.6" height="1" fill="#aab0a0" stroke="none" stroke-width="1" opacity="0.7"/>
<rect x="27.8" y="466" width="15.6" height="1" fill="#6a6e6a" stroke="none" stroke-width="1" opacity="0.7"/>
<rect x="27.8" y="470" width="15.6" height="1" fill="#7a7a6a" stroke="none" stroke-width="1" opacity="0.6"/>
<rect x="27.8" y="479.5" width="15.6" height="1" fill="#6a7268" stroke="none" stroke-width="1" opacity="0.8"/>
<rect x="27.8" y="480.8" width="15.6" height="2.6" fill="#27323e" stroke="none" stroke-width="1" opacity="0.95"/>
<rect x="27.8" y="484" width="15.6" height="1" fill="#7a8078" stroke="none" stroke-width="1" opacity="0.7"/>
<rect x="27.8" y="488" width="15.6" height="1" fill="#6a7270" stroke="none" stroke-width="1" opacity="0.6"/>
<rect x="27.8" y="491.5" width="15.6" height="1.2" fill="#5a6464" stroke="none" stroke-width="1" opacity="0.8"/>
<rect x="27.8" y="494" width="15.6" height="1.2" fill="#c0c8b8" stroke="none" stroke-width="1" opacity="0.9"/>
<rect x="27.8" y="496" width="15.6" height="1.4" fill="#48525a" stroke="none" stroke-width="1" opacity="0.9"/>
<rect x="27.8" y="498.5" width="15.6" height="1.5" fill="#c8d0c0" stroke="none" stroke-width="1" opacity="0.9"/>
<rect x="27.8" y="500.5" width="15.6" height="1.0" fill="#6a7470" stroke="none" stroke-width="1" opacity="0.8"/>
<rect x="27.8" y="502.5" width="15.6" height="1.2" fill="#3a4650" stroke="none" stroke-width="1" opacity="0.9"/>
<rect x="27.8" y="503.8" width="15.6" height="4.2" fill="#1c2636" stroke="none" stroke-width="1" opacity="0.95"/>
<rect x="27.8" y="508" width="15.6" height="1.2" fill="#5a6878" stroke="none" stroke-width="1" opacity="0.9"/>
<rect x="27.8" y="509.5" width="15.6" height="1.5" fill="#b0b8a8" stroke="none" stroke-width="1" opacity="0.8"/>
<rect x="27.8" y="512" width="15.6" height="1.6" fill="#2a3440" stroke="none" stroke-width="1" opacity="0.9"/>
<rect x="27.8" y="514.5" width="15.6" height="1.5" fill="#a8b09c" stroke="none" stroke-width="1" opacity="0.8"/>
<rect x="27.8" y="517" width="15.6" height="1.5" fill="#7a8270" stroke="none" stroke-width="1" opacity="0.8"/>
<rect x="27.8" y="384.6" width="15.6" height="136.2" fill="url(#coreh)" stroke="none" stroke-width="1" />
<circle cx="36" cy="394" r="0.6" fill="#3a3020"/>
<rect x="30" y="388" width="1.2" height="64" fill="#7a6a44" stroke="none" stroke-width="1" opacity="0.25"/>
<rect x="33.5" y="388" width="1.2" height="64" fill="#b0a070" stroke="none" stroke-width="1" opacity="0.2"/>
<rect x="37" y="388" width="1.2" height="64" fill="#6e6040" stroke="none" stroke-width="1" opacity="0.18"/>
<rect x="40.5" y="388" width="1.2" height="64" fill="#b4a474" stroke="none" stroke-width="1" opacity="0.2"/>
<line x1="24.5" y1="384.6" x2="27.8" y2="384.6" stroke="#777" stroke-width="0.5" />
<line x1="24.5" y1="391.57000000000005" x2="27.8" y2="391.57000000000005" stroke="#777" stroke-width="0.5" />
<line x1="24.5" y1="398.54" x2="27.8" y2="398.54" stroke="#777" stroke-width="0.5" />
<line x1="24.5" y1="405.51000000000005" x2="27.8" y2="405.51000000000005" stroke="#777" stroke-width="0.5" />
<line x1="24.5" y1="412.48" x2="27.8" y2="412.48" stroke="#777" stroke-width="0.5" />
<line x1="24.5" y1="419.45000000000005" x2="27.8" y2="419.45000000000005" stroke="#777" stroke-width="0.5" />
<line x1="24.5" y1="426.42" x2="27.8" y2="426.42" stroke="#777" stroke-width="0.5" />
<line x1="24.5" y1="433.39000000000004" x2="27.8" y2="433.39000000000004" stroke="#777" stroke-width="0.5" />
<line x1="24.5" y1="440.36" x2="27.8" y2="440.36" stroke="#777" stroke-width="0.5" />
<line x1="24.5" y1="447.33000000000004" x2="27.8" y2="447.33000000000004" stroke="#777" stroke-width="0.5" />
<line x1="24.5" y1="454.3" x2="27.8" y2="454.3" stroke="#777" stroke-width="0.5" />
<line x1="24.5" y1="461.27000000000004" x2="27.8" y2="461.27000000000004" stroke="#777" stroke-width="0.5" />
<line x1="24.5" y1="468.24" x2="27.8" y2="468.24" stroke="#777" stroke-width="0.5" />
<line x1="24.5" y1="475.21000000000004" x2="27.8" y2="475.21000000000004" stroke="#777" stroke-width="0.5" />
<line x1="24.5" y1="482.18" x2="27.8" y2="482.18" stroke="#777" stroke-width="0.5" />
<line x1="24.5" y1="489.15000000000003" x2="27.8" y2="489.15000000000003" stroke="#777" stroke-width="0.5" />
<line x1="24.5" y1="496.12" x2="27.8" y2="496.12" stroke="#777" stroke-width="0.5" />
<line x1="24.5" y1="503.09000000000003" x2="27.8" y2="503.09000000000003" stroke="#777" stroke-width="0.5" />
<line x1="24.5" y1="510.06" x2="27.8" y2="510.06" stroke="#777" stroke-width="0.5" />
<line x1="24.5" y1="517.03" x2="27.8" y2="517.03" stroke="#777" stroke-width="0.5" />
<text x="19.5" y="384.6" font-size="6" fill="#555" text-anchor="middle" font-weight="normal" transform="rotate(-90 19.5 384.6)" dominant-baseline="central">0</text>
<text x="19.5" y="419.45000000000005" font-size="6" fill="#555" text-anchor="middle" font-weight="normal" transform="rotate(-90 19.5 419.45000000000005)" dominant-baseline="central">50</text>
<text x="19.5" y="454.3" font-size="6" fill="#555" text-anchor="middle" font-weight="normal" transform="rotate(-90 19.5 454.3)" dominant-baseline="central">100</text>
<text x="19.5" y="489.15000000000003" font-size="6" fill="#555" text-anchor="middle" font-weight="normal" transform="rotate(-90 19.5 489.15000000000003)" dominant-baseline="central">150</text>
<text x="12.5" y="448.9" font-size="6.1" fill="#555" text-anchor="middle" font-weight="normal" transform="rotate(-90 12.5 448.9)" dominant-baseline="central">Depth (mm)</text>
<text x="80.4" y="364.5" font-size="6.4" fill="#555" text-anchor="middle" font-weight="normal" >Ca (10<tspan font-size="4" dy="-2.5">4</tspan><tspan dy="2.5"> cps)</tspan></text>
<line x1="57.7" y1="379.2" x2="99" y2="379.2" stroke="#555" stroke-width="0.7" />
<line x1="57.7" y1="379.2" x2="57.7" y2="375.8" stroke="#555" stroke-width="0.6" />
<line x1="62.862500000000004" y1="379.2" x2="62.862500000000004" y2="377" stroke="#555" stroke-width="0.6" />
<line x1="68.025" y1="379.2" x2="68.025" y2="375.8" stroke="#555" stroke-width="0.6" />
<line x1="73.1875" y1="379.2" x2="73.1875" y2="377" stroke="#555" stroke-width="0.6" />
<line x1="78.35" y1="379.2" x2="78.35" y2="375.8" stroke="#555" stroke-width="0.6" />
<line x1="83.5125" y1="379.2" x2="83.5125" y2="377" stroke="#555" stroke-width="0.6" />
<line x1="88.675" y1="379.2" x2="88.675" y2="375.8" stroke="#555" stroke-width="0.6" />
<line x1="93.8375" y1="379.2" x2="93.8375" y2="377" stroke="#555" stroke-width="0.6" />
<line x1="99.0" y1="379.2" x2="99.0" y2="375.8" stroke="#555" stroke-width="0.6" />
<text x="57.7" y="374" font-size="5.8" fill="#555" text-anchor="middle" font-weight="normal" >2</text>
<text x="78.5" y="374" font-size="5.8" fill="#555" text-anchor="middle" font-weight="normal" >6</text>
<text x="99" y="374" font-size="5.8" fill="#555" text-anchor="middle" font-weight="normal" >10</text>
<line x1="57.3" y1="521.6" x2="98.6" y2="521.6" stroke="#555" stroke-width="0.7" />
<line x1="57.3" y1="521.6" x2="57.3" y2="518.6" stroke="#555" stroke-width="0.6" />
<line x1="62.4625" y1="521.6" x2="62.4625" y2="519.8" stroke="#555" stroke-width="0.6" />
<line x1="67.625" y1="521.6" x2="67.625" y2="518.6" stroke="#555" stroke-width="0.6" />
<line x1="72.7875" y1="521.6" x2="72.7875" y2="519.8" stroke="#555" stroke-width="0.6" />
<line x1="77.94999999999999" y1="521.6" x2="77.94999999999999" y2="518.6" stroke="#555" stroke-width="0.6" />
<line x1="83.1125" y1="521.6" x2="83.1125" y2="519.8" stroke="#555" stroke-width="0.6" />
<line x1="88.27499999999999" y1="521.6" x2="88.27499999999999" y2="518.6" stroke="#555" stroke-width="0.6" />
<line x1="93.4375" y1="521.6" x2="93.4375" y2="519.8" stroke="#555" stroke-width="0.6" />
<line x1="98.6" y1="521.6" x2="98.6" y2="518.6" stroke="#555" stroke-width="0.6" />
<text x="57.5" y="529.8" font-size="5.8" fill="#555" text-anchor="middle" font-weight="normal" >2</text>
<text x="78.4" y="529.8" font-size="5.8" fill="#555" text-anchor="middle" font-weight="normal" >6</text>
<text x="98.6" y="529.8" font-size="5.8" fill="#555" text-anchor="middle" font-weight="normal" >10</text>
<text x="78" y="539" font-size="6.3" fill="#555" text-anchor="middle" font-weight="normal" >Fe (10<tspan font-size="4" dy="-2.5">4</tspan><tspan dy="2.5"> cps)</tspan></text>
<polyline points="77.0,386.0 77.5,392.0 76.0,398.0 77.5,404.0 76.5,412.0 78.0,420.0 77.0,428.0 78.0,436.0 76.5,444.0 77.5,452.0 76.5,460.0 77.0,468.0 75.5,476.0 76.5,484.0 75.0,492.0 76.0,500.0 74.0,507.0 75.0,512.0" stroke="#c4b8e6" stroke-width="4.2" fill="none" stroke-linejoin="round" stroke-linecap="round" />
<polyline points="77.0,386.0 77.5,392.0 76.0,398.0 77.5,404.0 76.5,412.0 78.0,420.0 77.0,428.0 78.0,436.0 76.5,444.0 77.5,452.0 76.5,460.0 77.0,468.0 75.5,476.0 76.5,484.0 75.0,492.0 76.0,500.0 74.0,507.0 75.0,512.0" stroke="#fbfaff" stroke-width="2.2" fill="none" stroke-linejoin="round" stroke-linecap="round" />
<polyline points="54.0,386.6 53.2,390.0 55.7,392.0 69.7,393.2 56.5,396.5 60.0,398.0 92.8,400.6 68.0,403.0 58.0,404.8 60.0,406.0 53.2,409.7 52.4,413.0 55.7,418.0 56.5,421.0 63.0,426.0 69.7,429.5 72.2,434.5 67.2,437.0 60.6,441.0 59.8,444.4 56.5,447.7 59.8,451.8 73.0,453.4 97.8,456.0 61.5,458.4 63.0,461.5 64.8,468.0 66.4,474.8 73.0,477.2 97.8,479.7 68.0,481.4 58.0,485.5 56.5,488.8 61.5,491.3 81.3,493.2 92.8,494.9 83.0,497.9 105.0,502.0 91.0,506.0 73.0,510.2 63.0,512.7 62.0,514.0" stroke="#222" stroke-width="0.9" fill="none" stroke-linejoin="round" stroke-linecap="round" />
<polyline points="54.0,386.6 53.2,390.0 55.7,392.0" stroke="#111" stroke-width="2.4" fill="none" stroke-linejoin="round" stroke-linecap="round" stroke-dasharray="1.8 0.5"/>
<polyline points="58.0,404.8 60.0,406.0 53.2,409.7 52.4,413.0 55.7,418.0 56.5,421.0 63.0,426.0 69.7,429.5 72.2,434.5 67.2,437.0 60.6,441.0 59.8,444.4 56.5,447.7 59.8,451.8" stroke="#111" stroke-width="2.4" fill="none" stroke-linejoin="round" stroke-linecap="round" stroke-dasharray="1.8 0.5"/>
<polyline points="61.5,458.4 63.0,461.5 64.8,468.0 66.4,474.8" stroke="#111" stroke-width="2.4" fill="none" stroke-linejoin="round" stroke-linecap="round" stroke-dasharray="1.8 0.5"/>
<polyline points="68.0,481.4 58.0,485.5 56.5,488.8 61.5,491.3" stroke="#111" stroke-width="2.4" fill="none" stroke-linejoin="round" stroke-linecap="round" stroke-dasharray="1.8 0.5"/>
<polyline points="73.0,510.2 63.0,512.7 62.0,514.0" stroke="#111" stroke-width="2.4" fill="none" stroke-linejoin="round" stroke-linecap="round" stroke-dasharray="1.8 0.5"/>
<circle cx="54" cy="386.6" r="1.1" fill="#111"/>
<circle cx="53.2" cy="390" r="1.1" fill="#111"/>
<circle cx="55.7" cy="392" r="1.1" fill="#111"/>
<circle cx="69.7" cy="393.2" r="1.1" fill="#111"/>
<circle cx="56.5" cy="396.5" r="1.1" fill="#111"/>
<circle cx="60" cy="398" r="1.1" fill="#111"/>
<circle cx="92.8" cy="400.6" r="1.1" fill="#111"/>
<circle cx="68" cy="403" r="1.1" fill="#111"/>
<circle cx="58" cy="404.8" r="1.1" fill="#111"/>
<circle cx="60" cy="406" r="1.1" fill="#111"/>
<circle cx="53.2" cy="409.7" r="1.1" fill="#111"/>
<circle cx="52.4" cy="413" r="1.1" fill="#111"/>
<circle cx="55.7" cy="418" r="1.1" fill="#111"/>
<circle cx="56.5" cy="421" r="1.1" fill="#111"/>
<circle cx="63" cy="426" r="1.1" fill="#111"/>
<circle cx="69.7" cy="429.5" r="1.1" fill="#111"/>
<circle cx="72.2" cy="434.5" r="1.1" fill="#111"/>
<circle cx="67.2" cy="437" r="1.1" fill="#111"/>
<circle cx="60.6" cy="441" r="1.1" fill="#111"/>
<circle cx="59.8" cy="444.4" r="1.1" fill="#111"/>
<circle cx="56.5" cy="447.7" r="1.1" fill="#111"/>
<circle cx="59.8" cy="451.8" r="1.1" fill="#111"/>
<circle cx="73" cy="453.4" r="1.1" fill="#111"/>
<circle cx="97.8" cy="456" r="1.1" fill="#111"/>
<circle cx="61.5" cy="458.4" r="1.1" fill="#111"/>
<circle cx="63" cy="461.5" r="1.1" fill="#111"/>
<circle cx="64.8" cy="468" r="1.1" fill="#111"/>
<circle cx="66.4" cy="474.8" r="1.1" fill="#111"/>
<circle cx="73" cy="477.2" r="1.1" fill="#111"/>
<circle cx="97.8" cy="479.7" r="1.1" fill="#111"/>
<circle cx="68" cy="481.4" r="1.1" fill="#111"/>
<circle cx="58" cy="485.5" r="1.1" fill="#111"/>
<circle cx="56.5" cy="488.8" r="1.1" fill="#111"/>
<circle cx="61.5" cy="491.3" r="1.1" fill="#111"/>
<circle cx="81.3" cy="493.2" r="1.1" fill="#111"/>
<circle cx="92.8" cy="494.9" r="1.1" fill="#111"/>
<circle cx="83" cy="497.9" r="1.1" fill="#111"/>
<circle cx="105" cy="502" r="1.1" fill="#111"/>
<circle cx="91" cy="506" r="1.1" fill="#111"/>
<circle cx="73" cy="510.2" r="1.1" fill="#111"/>
<circle cx="63" cy="512.7" r="1.1" fill="#111"/>
<circle cx="62" cy="514" r="1.1" fill="#111"/>
<circle cx="60.3" cy="392.4" r="0.8" fill="#222"/>
<circle cx="64.9" cy="392.8" r="0.8" fill="#222"/>
<circle cx="65.3" cy="394.3" r="0.8" fill="#222"/>
<circle cx="61.0" cy="395.4" r="0.8" fill="#222"/>
<circle cx="70.8" cy="398.9" r="0.8" fill="#222"/>
<circle cx="81.6" cy="399.7" r="0.8" fill="#222"/>
<circle cx="84.6" cy="401.4" r="0.8" fill="#222"/>
<circle cx="76.4" cy="402.2" r="0.8" fill="#222"/>
<circle cx="64.2" cy="452.3" r="0.8" fill="#222"/>
<circle cx="68.5" cy="452.9" r="0.8" fill="#222"/>
<circle cx="81.2" cy="454.3" r="0.8" fill="#222"/>
<circle cx="89.4" cy="455.1" r="0.8" fill="#222"/>
<circle cx="85.8" cy="456.8" r="0.8" fill="#222"/>
<circle cx="73.8" cy="457.6" r="0.8" fill="#222"/>
<circle cx="81.2" cy="478.0" r="0.8" fill="#222"/>
<circle cx="89.4" cy="478.8" r="0.8" fill="#222"/>
<circle cx="88.0" cy="480.3" r="0.8" fill="#222"/>
<circle cx="78.1" cy="480.8" r="0.8" fill="#222"/>
<circle cx="68.0" cy="491.9" r="0.8" fill="#222"/>
<circle cx="74.6" cy="492.6" r="0.8" fill="#222"/>
<circle cx="90.3" cy="499.3" r="0.8" fill="#222"/>
<circle cx="97.5" cy="500.6" r="0.8" fill="#222"/>
<circle cx="100.4" cy="503.3" r="0.8" fill="#222"/>
<circle cx="95.8" cy="504.6" r="0.8" fill="#222"/>
<circle cx="85.1" cy="507.4" r="0.8" fill="#222"/>
<circle cx="79.1" cy="508.8" r="0.8" fill="#222"/>
<circle cx="71.5" cy="510" r="0.9" fill="#222"/>
<text x="73.5" y="511.8" font-size="4.8" fill="#333" text-anchor="start" font-weight="normal" >Ca (cps)</text>
<circle cx="64" cy="516.5" r="1.1" fill="none" stroke="#333" stroke-width="0.5"/>
<text x="68" y="518.3" font-size="4.8" fill="#333" text-anchor="start" font-weight="normal" >Fe (cps)</text>
<text x="110.3" y="403.20000000000005" font-size="5.7" fill="#555" text-anchor="start" font-weight="normal" >Event 1</text>
<text x="110.3" y="457.65000000000003" font-size="5.7" fill="#555" text-anchor="start" font-weight="normal" >Event 2</text>
<text x="110.3" y="481.95000000000005" font-size="5.7" fill="#555" text-anchor="start" font-weight="normal" >Event 3</text>
<text x="110.3" y="505.05000000000007" font-size="5.7" fill="#555" text-anchor="start" font-weight="normal" >Event 4</text>
<text x="150.5" y="364.5" font-size="6.1" fill="#555" text-anchor="middle" font-weight="normal" ><tspan font-size="4" dy="-2.5">210</tspan><tspan dy="2.5">Pb</tspan><tspan font-size="4" dy="2">ex</tspan><tspan dy="-2"> (mBq/g)</tspan></text>
<line x1="122.7" y1="378.6" x2="178.8" y2="378.6" stroke="#555" stroke-width="0.7" />
<line x1="122.7" y1="378.6" x2="122.7" y2="375.8" stroke="#555" stroke-width="0.5" />
<line x1="128.07840258919646" y1="378.6" x2="128.07840258919646" y2="376.6" stroke="#555" stroke-width="0.5" />
<line x1="131.22456641765797" y1="378.6" x2="131.22456641765797" y2="376.6" stroke="#555" stroke-width="0.5" />
<line x1="133.45680517839293" y1="378.6" x2="133.45680517839293" y2="376.6" stroke="#555" stroke-width="0.5" />
<line x1="135.18826407747022" y1="378.6" x2="135.18826407747022" y2="376.6" stroke="#555" stroke-width="0.5" />
<line x1="136.60296900685444" y1="378.6" x2="136.60296900685444" y2="376.6" stroke="#555" stroke-width="0.5" />
<line x1="137.79908498158807" y1="378.6" x2="137.79908498158807" y2="376.6" stroke="#555" stroke-width="0.5" />
<line x1="138.8352077675894" y1="378.6" x2="138.8352077675894" y2="376.6" stroke="#555" stroke-width="0.5" />
<line x1="139.74913283531595" y1="378.6" x2="139.74913283531595" y2="376.6" stroke="#555" stroke-width="0.5" />
<line x1="140.56666666666666" y1="378.6" x2="140.56666666666666" y2="375.8" stroke="#555" stroke-width="0.5" />
<line x1="145.94506925586313" y1="378.6" x2="145.94506925586313" y2="376.6" stroke="#555" stroke-width="0.5" />
<line x1="149.09123308432464" y1="378.6" x2="149.09123308432464" y2="376.6" stroke="#555" stroke-width="0.5" />
<line x1="151.3234718450596" y1="378.6" x2="151.3234718450596" y2="376.6" stroke="#555" stroke-width="0.5" />
<line x1="153.05493074413687" y1="378.6" x2="153.05493074413687" y2="376.6" stroke="#555" stroke-width="0.5" />
<line x1="154.4696356735211" y1="378.6" x2="154.4696356735211" y2="376.6" stroke="#555" stroke-width="0.5" />
<line x1="155.66575164825474" y1="378.6" x2="155.66575164825474" y2="376.6" stroke="#555" stroke-width="0.5" />
<line x1="156.70187443425607" y1="378.6" x2="156.70187443425607" y2="376.6" stroke="#555" stroke-width="0.5" />
<line x1="157.61579950198262" y1="378.6" x2="157.61579950198262" y2="376.6" stroke="#555" stroke-width="0.5" />
<line x1="158.43333333333334" y1="378.6" x2="158.43333333333334" y2="375.8" stroke="#555" stroke-width="0.5" />
<line x1="163.8117359225298" y1="378.6" x2="163.8117359225298" y2="376.6" stroke="#555" stroke-width="0.5" />
<line x1="166.95789975099132" y1="378.6" x2="166.95789975099132" y2="376.6" stroke="#555" stroke-width="0.5" />
<line x1="169.19013851172627" y1="378.6" x2="169.19013851172627" y2="376.6" stroke="#555" stroke-width="0.5" />
<line x1="170.92159741080354" y1="378.6" x2="170.92159741080354" y2="376.6" stroke="#555" stroke-width="0.5" />
<line x1="172.33630234018779" y1="378.6" x2="172.33630234018779" y2="376.6" stroke="#555" stroke-width="0.5" />
<line x1="173.53241831492142" y1="378.6" x2="173.53241831492142" y2="376.6" stroke="#555" stroke-width="0.5" />
<line x1="174.56854110092274" y1="378.6" x2="174.56854110092274" y2="376.6" stroke="#555" stroke-width="0.5" />
<line x1="175.4824661686493" y1="378.6" x2="175.4824661686493" y2="376.6" stroke="#555" stroke-width="0.5" />
<line x1="176.3" y1="378.6" x2="176.3" y2="375.8" stroke="#555" stroke-width="0.5" />
<text x="122.7" y="372.3" font-size="5.3" fill="#555" text-anchor="middle" font-weight="normal" >1</text>
<text x="140.56666666666666" y="372.3" font-size="5.3" fill="#555" text-anchor="middle" font-weight="normal" >10</text>
<text x="158.43333333333334" y="372.3" font-size="5.3" fill="#555" text-anchor="middle" font-weight="normal" >100</text>
<text x="176.3" y="372.3" font-size="5.3" fill="#555" text-anchor="middle" font-weight="normal" >1000</text>
<line x1="193.2" y1="378.6" x2="269.4" y2="378.6" stroke="#555" stroke-width="0.7" />
<line x1="193.2" y1="378.6" x2="193.2" y2="375.8" stroke="#555" stroke-width="0.5" />
<line x1="200.34444523042515" y1="378.6" x2="200.34444523042515" y2="376.6" stroke="#555" stroke-width="0.5" />
<line x1="204.52367777867997" y1="378.6" x2="204.52367777867997" y2="376.6" stroke="#555" stroke-width="0.5" />
<line x1="207.48889046085029" y1="378.6" x2="207.48889046085029" y2="376.6" stroke="#555" stroke-width="0.5" />
<line x1="209.78888810290817" y1="378.6" x2="209.78888810290817" y2="376.6" stroke="#555" stroke-width="0.5" />
<line x1="211.66812300910513" y1="378.6" x2="211.66812300910513" y2="376.6" stroke="#555" stroke-width="0.5" />
<line x1="213.256993483005" y1="378.6" x2="213.256993483005" y2="376.6" stroke="#555" stroke-width="0.5" />
<line x1="214.63333569127545" y1="378.6" x2="214.63333569127545" y2="376.6" stroke="#555" stroke-width="0.5" />
<line x1="215.84735555735998" y1="378.6" x2="215.84735555735998" y2="376.6" stroke="#555" stroke-width="0.5" />
<line x1="216.9333333333333" y1="378.6" x2="216.9333333333333" y2="375.8" stroke="#555" stroke-width="0.5" />
<line x1="224.07777856375847" y1="378.6" x2="224.07777856375847" y2="376.6" stroke="#555" stroke-width="0.5" />
<line x1="228.2570111120133" y1="378.6" x2="228.2570111120133" y2="376.6" stroke="#555" stroke-width="0.5" />
<line x1="231.22222379418363" y1="378.6" x2="231.22222379418363" y2="376.6" stroke="#555" stroke-width="0.5" />
<line x1="233.5222214362415" y1="378.6" x2="233.5222214362415" y2="376.6" stroke="#555" stroke-width="0.5" />
<line x1="235.40145634243845" y1="378.6" x2="235.40145634243845" y2="376.6" stroke="#555" stroke-width="0.5" />
<line x1="236.99032681633835" y1="378.6" x2="236.99032681633835" y2="376.6" stroke="#555" stroke-width="0.5" />
<line x1="238.36666902460877" y1="378.6" x2="238.36666902460877" y2="376.6" stroke="#555" stroke-width="0.5" />
<line x1="239.5806888906933" y1="378.6" x2="239.5806888906933" y2="376.6" stroke="#555" stroke-width="0.5" />
<line x1="240.66666666666666" y1="378.6" x2="240.66666666666666" y2="375.8" stroke="#555" stroke-width="0.5" />
<line x1="247.8111118970918" y1="378.6" x2="247.8111118970918" y2="376.6" stroke="#555" stroke-width="0.5" />
<line x1="251.99034444534664" y1="378.6" x2="251.99034444534664" y2="376.6" stroke="#555" stroke-width="0.5" />
<line x1="254.95555712751695" y1="378.6" x2="254.95555712751695" y2="376.6" stroke="#555" stroke-width="0.5" />
<line x1="257.2555547695748" y1="378.6" x2="257.2555547695748" y2="376.6" stroke="#555" stroke-width="0.5" />
<line x1="259.1347896757718" y1="378.6" x2="259.1347896757718" y2="376.6" stroke="#555" stroke-width="0.5" />
<line x1="260.7236601496717" y1="378.6" x2="260.7236601496717" y2="376.6" stroke="#555" stroke-width="0.5" />
<line x1="262.1000023579421" y1="378.6" x2="262.1000023579421" y2="376.6" stroke="#555" stroke-width="0.5" />
<line x1="263.31402222402664" y1="378.6" x2="263.31402222402664" y2="376.6" stroke="#555" stroke-width="0.5" />
<line x1="264.4" y1="378.6" x2="264.4" y2="375.8" stroke="#555" stroke-width="0.5" />
<text x="193.2" y="372.3" font-size="5.3" fill="#555" text-anchor="middle" font-weight="normal" >1</text>
<text x="216.9333333333333" y="372.3" font-size="5.3" fill="#555" text-anchor="middle" font-weight="normal" >10</text>
<text x="240.66666666666666" y="372.3" font-size="5.3" fill="#555" text-anchor="middle" font-weight="normal" >100</text>
<text x="264.4" y="372.3" font-size="5.3" fill="#555" text-anchor="middle" font-weight="normal" >1000</text>
<text x="231.5" y="364.5" font-size="6.1" fill="#555" text-anchor="middle" font-weight="normal" ><tspan font-size="4" dy="-2.5">210</tspan><tspan dy="2.5">Pb</tspan><tspan font-size="4" dy="2">ex</tspan><tspan dy="-2"> (mBq/g)</tspan></text>
<line x1="172.6" y1="382.9" x2="172.6" y2="388.1" stroke="#2a3060" stroke-width="0.6" />
<ellipse cx="172.6" cy="385.5" rx="1.2" ry="1.5" fill="#1e2a6a"/>
<line x1="171" y1="387.2" x2="171" y2="392.40000000000003" stroke="#2a3060" stroke-width="0.6" />
<ellipse cx="171" cy="389.8" rx="1.2" ry="1.5" fill="#1e2a6a"/>
<line x1="168.8" y1="392.7" x2="168.8" y2="397.90000000000003" stroke="#2a3060" stroke-width="0.6" />
<ellipse cx="168.8" cy="395.3" rx="1.2" ry="1.5" fill="#1e2a6a"/>
<line x1="165.6" y1="398.8" x2="165.6" y2="404.8" stroke="#aaa" stroke-width="0.5" />
<ellipse cx="165.6" cy="401.8" rx="0.9" ry="1.2" fill="#bbb"/>
<line x1="165.6" y1="404.7" x2="165.6" y2="409.90000000000003" stroke="#2a3060" stroke-width="0.6" />
<ellipse cx="165.6" cy="407.3" rx="1.2" ry="1.5" fill="#1e2a6a"/>
<line x1="166.7" y1="408.0" x2="166.7" y2="413.20000000000005" stroke="#2a3060" stroke-width="0.6" />
<ellipse cx="166.7" cy="410.6" rx="1.2" ry="1.5" fill="#1e2a6a"/>
<line x1="164.5" y1="412.4" x2="164.5" y2="417.6" stroke="#2a3060" stroke-width="0.6" />
<ellipse cx="164.5" cy="415" rx="1.2" ry="1.5" fill="#1e2a6a"/>
<line x1="162.3" y1="417.79999999999995" x2="162.3" y2="423.0" stroke="#2a3060" stroke-width="0.6" />
<ellipse cx="162.3" cy="420.4" rx="1.2" ry="1.5" fill="#1e2a6a"/>
<line x1="160.1" y1="424.4" x2="160.1" y2="429.6" stroke="#2a3060" stroke-width="0.6" />
<ellipse cx="160.1" cy="427" rx="1.2" ry="1.5" fill="#1e2a6a"/>
<line x1="159.5" y1="428.7" x2="159.5" y2="433.90000000000003" stroke="#2a3060" stroke-width="0.6" />
<ellipse cx="159.5" cy="431.3" rx="1.2" ry="1.5" fill="#1e2a6a"/>
<line x1="159.5" y1="433.09999999999997" x2="159.5" y2="438.3" stroke="#2a3060" stroke-width="0.6" />
<ellipse cx="159.5" cy="435.7" rx="1.2" ry="1.5" fill="#1e2a6a"/>
<line x1="159" y1="436.4" x2="159" y2="441.6" stroke="#2a3060" stroke-width="0.6" />
<ellipse cx="159" cy="439" rx="1.2" ry="1.5" fill="#1e2a6a"/>
<line x1="159.5" y1="440.7" x2="159.5" y2="445.90000000000003" stroke="#2a3060" stroke-width="0.6" />
<ellipse cx="159.5" cy="443.3" rx="1.2" ry="1.5" fill="#1e2a6a"/>
<line x1="154.7" y1="444.0" x2="154.7" y2="449.20000000000005" stroke="#2a3060" stroke-width="0.6" />
<ellipse cx="154.7" cy="446.6" rx="1.2" ry="1.5" fill="#1e2a6a"/>
<line x1="152.5" y1="449.4" x2="152.5" y2="454.6" stroke="#2a3060" stroke-width="0.6" />
<ellipse cx="152.5" cy="452" rx="1.2" ry="1.5" fill="#1e2a6a"/>
<line x1="149.2" y1="452.3" x2="149.2" y2="458.3" stroke="#aaa" stroke-width="0.5" />
<ellipse cx="149.2" cy="455.3" rx="0.9" ry="1.2" fill="#bbb"/>
<line x1="148.1" y1="458.2" x2="148.1" y2="463.40000000000003" stroke="#2a3060" stroke-width="0.6" />
<ellipse cx="148.1" cy="460.8" rx="1.2" ry="1.5" fill="#1e2a6a"/>
<line x1="148.1" y1="462.59999999999997" x2="148.1" y2="467.8" stroke="#2a3060" stroke-width="0.6" />
<ellipse cx="148.1" cy="465.2" rx="1.2" ry="1.5" fill="#1e2a6a"/>
<line x1="148.1" y1="466.9" x2="148.1" y2="472.1" stroke="#2a3060" stroke-width="0.6" />
<ellipse cx="148.1" cy="469.5" rx="1.2" ry="1.5" fill="#1e2a6a"/>
<line x1="147" y1="471.29999999999995" x2="147" y2="476.5" stroke="#2a3060" stroke-width="0.6" />
<ellipse cx="147" cy="473.9" rx="1.2" ry="1.5" fill="#1e2a6a"/>
<line x1="143.7" y1="476.3" x2="143.7" y2="482.3" stroke="#aaa" stroke-width="0.5" />
<ellipse cx="143.7" cy="479.3" rx="0.9" ry="1.2" fill="#bbb"/>
<line x1="141.5" y1="484.4" x2="141.5" y2="489.6" stroke="#2a3060" stroke-width="0.6" />
<ellipse cx="141.5" cy="487" rx="1.2" ry="1.5" fill="#1e2a6a"/>
<line x1="141.5" y1="488.79999999999995" x2="141.5" y2="494.0" stroke="#2a3060" stroke-width="0.6" />
<ellipse cx="141.5" cy="491.4" rx="1.2" ry="1.5" fill="#1e2a6a"/>
<line x1="262.5" y1="384.9" x2="244.1" y2="424.5" stroke="#111" stroke-width="1.4" />
<line x1="244.1" y1="426.5" x2="219.7" y2="476" stroke="#2a3a8a" stroke-width="1.3" />
<line x1="262" y1="383.6" x2="262" y2="388.4" stroke="#222" stroke-width="0.6" />
<ellipse cx="262" cy="386" rx="1.1" ry="1.4" fill="#111"/>
<line x1="260" y1="387.40000000000003" x2="260" y2="392.2" stroke="#222" stroke-width="0.6" />
<ellipse cx="260" cy="389.8" rx="1.1" ry="1.4" fill="#111"/>
<line x1="251.8" y1="397.20000000000005" x2="251.8" y2="402.0" stroke="#222" stroke-width="0.6" />
<ellipse cx="251.8" cy="399.6" rx="1.1" ry="1.4" fill="#111"/>
<line x1="254.3" y1="401.3" x2="254.3" y2="406.09999999999997" stroke="#222" stroke-width="0.6" />
<ellipse cx="254.3" cy="403.7" rx="1.1" ry="1.4" fill="#111"/>
<line x1="251.8" y1="407.1" x2="251.8" y2="411.9" stroke="#222" stroke-width="0.6" />
<ellipse cx="251.8" cy="409.5" rx="1.1" ry="1.4" fill="#111"/>
<line x1="248" y1="413.6" x2="248" y2="418.4" stroke="#222" stroke-width="0.6" />
<ellipse cx="248" cy="416" rx="1.1" ry="1.4" fill="#111"/>
<line x1="244.5" y1="421.0" x2="244.5" y2="425.79999999999995" stroke="#222" stroke-width="0.6" />
<ellipse cx="244.5" cy="423.4" rx="1.1" ry="1.4" fill="#111"/>
<line x1="244.5" y1="424.20000000000005" x2="244.5" y2="429.0" stroke="#222" stroke-width="0.6" />
<ellipse cx="244.5" cy="426.6" rx="1.1" ry="1.4" fill="#111"/>
<line x1="245.3" y1="428.3" x2="245.3" y2="433.09999999999997" stroke="#2a3a8a" stroke-width="0.6" />
<ellipse cx="245.3" cy="430.7" rx="1.1" ry="1.4" fill="#1e2a7a"/>
<line x1="245.3" y1="434.90000000000003" x2="245.3" y2="439.7" stroke="#2a3a8a" stroke-width="0.6" />
<ellipse cx="245.3" cy="437.3" rx="1.1" ry="1.4" fill="#1e2a7a"/>
<line x1="237.1" y1="439.8" x2="237.1" y2="444.59999999999997" stroke="#2a3a8a" stroke-width="0.6" />
<ellipse cx="237.1" cy="442.2" rx="1.1" ry="1.4" fill="#1e2a7a"/>
<line x1="235.5" y1="443.1" x2="235.5" y2="447.9" stroke="#2a3a8a" stroke-width="0.6" />
<ellipse cx="235.5" cy="445.5" rx="1.1" ry="1.4" fill="#1e2a7a"/>
<line x1="228.9" y1="446.3" x2="228.9" y2="451.09999999999997" stroke="#2a3a8a" stroke-width="0.6" />
<ellipse cx="228.9" cy="448.7" rx="1.1" ry="1.4" fill="#1e2a7a"/>
<line x1="229.7" y1="452.1" x2="229.7" y2="456.9" stroke="#2a3a8a" stroke-width="0.6" />
<ellipse cx="229.7" cy="454.5" rx="1.1" ry="1.4" fill="#1e2a7a"/>
<line x1="229.7" y1="456.20000000000005" x2="229.7" y2="461.0" stroke="#2a3a8a" stroke-width="0.6" />
<ellipse cx="229.7" cy="458.6" rx="1.1" ry="1.4" fill="#1e2a7a"/>
<line x1="227.3" y1="461.1" x2="227.3" y2="465.9" stroke="#2a3a8a" stroke-width="0.6" />
<ellipse cx="227.3" cy="463.5" rx="1.1" ry="1.4" fill="#1e2a7a"/>
<line x1="220" y1="472.1" x2="220" y2="476.9" stroke="#2a3a8a" stroke-width="0.6" />
<ellipse cx="220" cy="474.5" rx="1.1" ry="1.4" fill="#1e2a7a"/>
<text x="196.5" y="402.5" font-size="4.8" fill="#444" text-anchor="start" font-weight="normal" >SAR = 1.1 mm.yr<tspan font-size="3.5" dy="-2">-1</tspan></text>
<text x="196.5" y="411.5" font-size="4.8" fill="#444" text-anchor="start" font-weight="normal" >r<tspan font-size="3.5" dy="-2">2</tspan><tspan dy="2"> = 0.945</tspan></text>
<text x="196.5" y="441" font-size="4.8" fill="#3a4a9a" text-anchor="start" font-weight="normal" >SAR = 0.8 mm.yr<tspan font-size="3.5" dy="-2">-1</tspan></text>
<text x="196.5" y="449" font-size="4.8" fill="#3a4a9a" text-anchor="start" font-weight="normal" >r<tspan font-size="3.5" dy="-2">2</tspan><tspan dy="2"> = 0.923</tspan></text>
<text x="322.5" y="364.5" font-size="6.0" fill="#555" text-anchor="middle" font-weight="normal" ><tspan font-size="4" dy="-2.5">137</tspan><tspan dy="2.5">Cs (mBq/g)</tspan></text>
<line x1="285.5" y1="378.5" x2="353.5" y2="378.5" stroke="#555" stroke-width="0.7" />
<line x1="285.5" y1="378.5" x2="285.5" y2="375.5" stroke="#555" stroke-width="0.6" />
<line x1="308.165" y1="378.5" x2="308.165" y2="375.5" stroke="#555" stroke-width="0.6" />
<line x1="330.83" y1="378.5" x2="330.83" y2="375.5" stroke="#555" stroke-width="0.6" />
<line x1="353.495" y1="378.5" x2="353.495" y2="375.5" stroke="#555" stroke-width="0.6" />
<text x="285.5" y="372.6" font-size="5.5" fill="#555" text-anchor="middle" font-weight="normal" >0</text>
<text x="308" y="372.6" font-size="5.5" fill="#555" text-anchor="middle" font-weight="normal" >500</text>
<text x="331" y="372.6" font-size="5.5" fill="#555" text-anchor="middle" font-weight="normal" >1000</text>
<text x="353.5" y="372.6" font-size="5.5" fill="#555" text-anchor="middle" font-weight="normal" >1500</text>
<polyline points="320.8,385.6 309.7,390.9 309.7,396.1 306.0,400.4 321.5,405.4 346.0,409.8 309.7,413.4 304.8,416.5 304.1,419.6 303.5,424.0 298.6,426.4 295.5,428.3 292.4,433.2 290.0,438.2 288.5,442.0 287.5,446.0 286.8,450.0 286.3,455.0 286.0,462.0 286.0,470.0 286.0,478.0 286.0,486.0 286.0,494.0" stroke="#333" stroke-width="0.8" fill="none" stroke-linejoin="round" stroke-linecap="round" />
<circle cx="320.8" cy="385.6" r="1.1" fill="#222"/>
<circle cx="309.7" cy="390.9" r="1.1" fill="#222"/>
<circle cx="309.7" cy="396.1" r="1.1" fill="#222"/>
<circle cx="306" cy="400.4" r="1.1" fill="#222"/>
<circle cx="321.5" cy="405.4" r="1.1" fill="#222"/>
<circle cx="346" cy="409.8" r="1.1" fill="#222"/>
<circle cx="309.7" cy="413.4" r="1.1" fill="#222"/>
<circle cx="304.8" cy="416.5" r="1.1" fill="#222"/>
<circle cx="304.1" cy="419.6" r="1.1" fill="#222"/>
<circle cx="303.5" cy="424" r="1.1" fill="#222"/>
<circle cx="298.6" cy="426.4" r="1.1" fill="#222"/>
<circle cx="295.5" cy="428.3" r="1.1" fill="#222"/>
<circle cx="292.4" cy="433.2" r="1.1" fill="#222"/>
<circle cx="290" cy="438.2" r="1.1" fill="#222"/>
<circle cx="288.5" cy="442" r="1.1" fill="#222"/>
<circle cx="287.5" cy="446" r="1.1" fill="#222"/>
<circle cx="286.8" cy="450" r="1.1" fill="#222"/>
<circle cx="286.3" cy="455" r="1.1" fill="#222"/>
<circle cx="286" cy="462" r="1.1" fill="#222"/>
<circle cx="286" cy="470" r="1.1" fill="#222"/>
<circle cx="286" cy="478" r="1.1" fill="#222"/>
<circle cx="286" cy="486" r="1.1" fill="#222"/>
<circle cx="286" cy="494" r="1.1" fill="#222"/>
<line x1="309.7" y1="388.9" x2="309.7" y2="392.9" stroke="#333" stroke-width="0.6" />
<line x1="309.7" y1="394.1" x2="309.7" y2="398.1" stroke="#333" stroke-width="0.6" />
<line x1="321.5" y1="403.4" x2="321.5" y2="407.4" stroke="#333" stroke-width="0.6" />
<line x1="346" y1="407.8" x2="346" y2="411.8" stroke="#333" stroke-width="0.6" />
<line x1="287.1" y1="385.6" x2="295.1" y2="385.6" stroke="#555" stroke-width="0.6" />
<line x1="291.1" y1="383.6" x2="291.1" y2="387.6" stroke="#555" stroke-width="0.6" />
<polygon points="291.1,384.0 292.7,385.6 291.1,387.2 289.5,385.6" fill="#fff" stroke="#444" stroke-width="0.6" />
<line x1="286.9" y1="390.9" x2="297.9" y2="390.9" stroke="#555" stroke-width="0.6" />
<line x1="292.4" y1="388.9" x2="292.4" y2="392.9" stroke="#555" stroke-width="0.6" />
<polygon points="292.4,389.3 294.0,390.9 292.4,392.5 290.8,390.9" fill="#fff" stroke="#444" stroke-width="0.6" />
<line x1="290" y1="396.1" x2="296" y2="396.1" stroke="#555" stroke-width="0.6" />
<line x1="293" y1="394.1" x2="293" y2="398.1" stroke="#555" stroke-width="0.6" />
<polygon points="293.0,394.5 294.6,396.1 293.0,397.7 291.4,396.1" fill="#fff" stroke="#444" stroke-width="0.6" />
<line x1="291.9" y1="400.4" x2="297.9" y2="400.4" stroke="#555" stroke-width="0.6" />
<line x1="294.9" y1="398.4" x2="294.9" y2="402.4" stroke="#555" stroke-width="0.6" />
<polygon points="294.9,398.8 296.5,400.4 294.9,402.0 293.3,400.4" fill="#fff" stroke="#444" stroke-width="0.6" />
<line x1="291" y1="405.4" x2="301" y2="405.4" stroke="#555" stroke-width="0.6" />
<line x1="296" y1="403.4" x2="296" y2="407.4" stroke="#555" stroke-width="0.6" />
<polygon points="296.0,403.8 297.6,405.4 296.0,407.0 294.4,405.4" fill="#fff" stroke="#444" stroke-width="0.6" />
<line x1="287.4" y1="409.7" x2="297.4" y2="409.7" stroke="#555" stroke-width="0.6" />
<line x1="292.4" y1="407.7" x2="292.4" y2="411.7" stroke="#555" stroke-width="0.6" />
<polygon points="292.4,408.1 294.0,409.7 292.4,411.3 290.8,409.7" fill="#fff" stroke="#444" stroke-width="0.6" />
<line x1="288.9" y1="413.2" x2="295.9" y2="413.2" stroke="#555" stroke-width="0.6" />
<line x1="292.4" y1="411.2" x2="292.4" y2="415.2" stroke="#555" stroke-width="0.6" />
<polygon points="292.4,411.6 294.0,413.2 292.4,414.8 290.8,413.2" fill="#fff" stroke="#444" stroke-width="0.6" />
<line x1="301.1" y1="416.9" x2="307.1" y2="416.9" stroke="#555" stroke-width="0.6" />
<line x1="304.1" y1="414.9" x2="304.1" y2="418.9" stroke="#555" stroke-width="0.6" />
<polygon points="304.1,415.3 305.7,416.9 304.1,418.5 302.5,416.9" fill="#fff" stroke="#444" stroke-width="0.6" />
<line x1="309.9" y1="423.3" x2="321.9" y2="423.3" stroke="#555" stroke-width="0.6" />
<line x1="315.9" y1="421.3" x2="315.9" y2="425.3" stroke="#555" stroke-width="0.6" />
<polygon points="315.9,421.7 317.5,423.3 315.9,424.9 314.3,423.3" fill="#fff" stroke="#444" stroke-width="0.6" />
<line x1="316" y1="420.8" x2="322" y2="420.8" stroke="#555" stroke-width="0.6" />
<line x1="319" y1="418.8" x2="319" y2="422.8" stroke="#555" stroke-width="0.6" />
<polygon points="319.0,419.2 320.6,420.8 319.0,422.4 317.4,420.8" fill="#fff" stroke="#444" stroke-width="0.6" />
<line x1="295.8" y1="430.7" x2="303.8" y2="430.7" stroke="#555" stroke-width="0.6" />
<line x1="299.8" y1="428.7" x2="299.8" y2="432.7" stroke="#555" stroke-width="0.6" />
<polygon points="299.8,429.1 301.4,430.7 299.8,432.3 298.2,430.7" fill="#fff" stroke="#444" stroke-width="0.6" />
<line x1="289.4" y1="435.7" x2="295.4" y2="435.7" stroke="#555" stroke-width="0.6" />
<line x1="292.4" y1="433.7" x2="292.4" y2="437.7" stroke="#555" stroke-width="0.6" />
<polygon points="292.4,434.1 294.0,435.7 292.4,437.3 290.8,435.7" fill="#fff" stroke="#444" stroke-width="0.6" />
<line x1="293" y1="427" x2="299" y2="427" stroke="#555" stroke-width="0.6" />
<line x1="296" y1="425" x2="296" y2="429" stroke="#555" stroke-width="0.6" />
<polygon points="296.0,425.4 297.6,427.0 296.0,428.6 294.4,427.0" fill="#fff" stroke="#444" stroke-width="0.6" />
<line x1="308.7" y1="419.6" x2="308.7" y2="425.8" stroke="#555" stroke-width="0.6" />
<line x1="352.5" y1="409.8" x2="378" y2="409.8" stroke="#555" stroke-width="0.7" stroke-dasharray="2 1.5"/>
<line x1="324" y1="422.7" x2="386" y2="422.7" stroke="#555" stroke-width="0.7" stroke-dasharray="2 1.5"/>
<text x="344" y="405.8" font-size="5.2" fill="#444" text-anchor="start" font-weight="normal" >C 1986</text>
<text x="341" y="416.8" font-size="4.8" fill="#444" text-anchor="start" font-weight="normal" >NWT 1963</text>
<circle cx="312" cy="510.9" r="1" fill="#111"/>
<text x="319" y="511.7" font-size="4.6" fill="#444" text-anchor="start" font-weight="normal" >Caesium</text>
<circle cx="312" cy="516.6" r="1.1" fill="#bbb" stroke="#888" stroke-width="0.4"/>
<text x="319" y="518" font-size="4.6" fill="#444" text-anchor="start" font-weight="normal" >Americium</text>
<line x1="285.5" y1="521" x2="330.8" y2="521" stroke="#555" stroke-width="0.7" />
<line x1="285.5" y1="521" x2="285.5" y2="524" stroke="#555" stroke-width="0.7" />
<line x1="296.825" y1="521" x2="296.825" y2="524" stroke="#555" stroke-width="0.7" />
<line x1="308.15" y1="521" x2="308.15" y2="524" stroke="#555" stroke-width="0.7" />
<line x1="319.475" y1="521" x2="319.475" y2="524" stroke="#555" stroke-width="0.7" />
<line x1="330.8" y1="521" x2="330.8" y2="524" stroke="#555" stroke-width="0.7" />
<text x="285.5" y="531.6" font-size="5.5" fill="#555" text-anchor="middle" font-weight="normal" >0</text>
<text x="296.8" y="531.6" font-size="5.5" fill="#555" text-anchor="middle" font-weight="normal" >2</text>
<text x="308.1" y="531.6" font-size="5.5" fill="#555" text-anchor="middle" font-weight="normal" >4</text>
<text x="319.4" y="531.6" font-size="5.5" fill="#555" text-anchor="middle" font-weight="normal" >6</text>
<text x="330.7" y="531.6" font-size="5.5" fill="#555" text-anchor="middle" font-weight="normal" >8</text>
<text x="308.6" y="537.8" font-size="6.0" fill="#555" text-anchor="middle" font-weight="normal" ><tspan font-size="4" dy="-2.5">241</tspan><tspan dy="2.5">Am (mBq/g)</tspan></text>
<text x="413" y="365" font-size="6.1" fill="#555" text-anchor="middle" font-weight="normal" >Year (C.E.)</text>
<line x1="371.6" y1="378" x2="457" y2="378" stroke="#555" stroke-width="0.7" />
<line x1="372.4" y1="378" x2="372.4" y2="376.5" stroke="#555" stroke-width="0.5" />
<line x1="376.15" y1="378" x2="376.15" y2="375.5" stroke="#555" stroke-width="0.5" />
<line x1="379.9" y1="378" x2="379.9" y2="376.5" stroke="#555" stroke-width="0.5" />
<line x1="383.65" y1="378" x2="383.65" y2="375.5" stroke="#555" stroke-width="0.5" />
<line x1="387.4" y1="378" x2="387.4" y2="376.5" stroke="#555" stroke-width="0.5" />
<line x1="391.15" y1="378" x2="391.15" y2="375.5" stroke="#555" stroke-width="0.5" />
<line x1="394.9" y1="378" x2="394.9" y2="376.5" stroke="#555" stroke-width="0.5" />
<line x1="398.65" y1="378" x2="398.65" y2="375.5" stroke="#555" stroke-width="0.5" />
<line x1="402.4" y1="378" x2="402.4" y2="376.5" stroke="#555" stroke-width="0.5" />
<line x1="406.15" y1="378" x2="406.15" y2="375.5" stroke="#555" stroke-width="0.5" />
<line x1="409.9" y1="378" x2="409.9" y2="376.5" stroke="#555" stroke-width="0.5" />
<line x1="413.65" y1="378" x2="413.65" y2="375.5" stroke="#555" stroke-width="0.5" />
<line x1="417.4" y1="378" x2="417.4" y2="376.5" stroke="#555" stroke-width="0.5" />
<line x1="421.15" y1="378" x2="421.15" y2="375.5" stroke="#555" stroke-width="0.5" />
<line x1="424.9" y1="378" x2="424.9" y2="376.5" stroke="#555" stroke-width="0.5" />
<line x1="428.65" y1="378" x2="428.65" y2="375.5" stroke="#555" stroke-width="0.5" />
<line x1="432.4" y1="378" x2="432.4" y2="376.5" stroke="#555" stroke-width="0.5" />
<line x1="436.15" y1="378" x2="436.15" y2="375.5" stroke="#555" stroke-width="0.5" />
<line x1="439.9" y1="378" x2="439.9" y2="376.5" stroke="#555" stroke-width="0.5" />
<line x1="443.65" y1="378" x2="443.65" y2="375.5" stroke="#555" stroke-width="0.5" />
<line x1="447.4" y1="378" x2="447.4" y2="376.5" stroke="#555" stroke-width="0.5" />
<line x1="451.15" y1="378" x2="451.15" y2="375.5" stroke="#555" stroke-width="0.5" />
<line x1="454.9" y1="378" x2="454.9" y2="376.5" stroke="#555" stroke-width="0.5" />
<text x="372.4" y="372.2" font-size="5.3" fill="#555" text-anchor="middle" font-weight="normal" >2010</text>
<text x="389" y="372.2" font-size="5.3" fill="#555" text-anchor="middle" font-weight="normal" >1950</text>
<text x="410" y="372.2" font-size="5.3" fill="#555" text-anchor="middle" font-weight="normal" >1890</text>
<text x="427.4" y="372.2" font-size="5.3" fill="#555" text-anchor="middle" font-weight="normal" >1830</text>
<text x="447.5" y="372.2" font-size="5.3" fill="#555" text-anchor="middle" font-weight="normal" >1770</text>
<line x1="376.4" y1="384" x2="376.4" y2="447" stroke="#666" stroke-width="0.55" stroke-dasharray="1 1"/>
<line x1="400.6" y1="384" x2="400.6" y2="494" stroke="#666" stroke-width="0.55" stroke-dasharray="1 1"/>
<line x1="410.8" y1="384" x2="410.8" y2="494" stroke="#666" stroke-width="0.55" stroke-dasharray="1 1"/>
<line x1="416.7" y1="384" x2="416.7" y2="494" stroke="#666" stroke-width="0.55" stroke-dasharray="1 1"/>
<rect x="414.3" y="490.5" width="7.2" height="21.9" fill="#a4aab2" stroke="none" stroke-width="1" />
<polyline points="408.0,472.0 410.0,477.0 412.5,482.0 415.0,486.5 417.0,491.0 418.0,500.0 418.0,512.0" stroke="#9aa4b0" stroke-width="2.8" fill="none" stroke-linejoin="round" stroke-linecap="round" />
<polyline points="410.0,477.0 412.5,482.0 415.0,486.5 417.0,491.0 418.0,500.0 418.0,512.0" stroke="#707880" stroke-width="0.7" fill="none" stroke-linejoin="round" stroke-linecap="round" />
<polyline points="372.4,383.5 375.0,392.0 378.0,400.0 381.0,408.0 384.0,416.0 388.0,424.0 392.0,432.0 396.0,441.0 400.6,450.7 402.0,457.4 406.0,466.0 411.3,474.9 415.3,482.9 420.0,487.0 424.7,489.6" stroke="#eaa88e" stroke-width="3.8" fill="none" stroke-linejoin="round" stroke-linecap="round" />
<polyline points="372.4,383.5 375.0,392.0 378.0,400.0 381.0,408.0 384.0,416.0 388.0,424.0 392.0,432.0 396.0,441.0 400.6,450.7 402.0,457.4 406.0,466.0 411.3,474.9 415.3,482.9 420.0,487.0 424.7,489.6" stroke="#c0553a" stroke-width="0.8" fill="none" stroke-linejoin="round" stroke-linecap="round" />
<line x1="375" y1="409.8" x2="381" y2="409.8" stroke="#222" stroke-width="0.6" />
<line x1="378" y1="407.3" x2="378" y2="412.3" stroke="#222" stroke-width="0.6" />
<polygon points="378.0,407.8 379.4,409.8 378.0,411.8 376.6,409.8" fill="#111" stroke="none" stroke-width="1" />
<line x1="383" y1="422.7" x2="389" y2="422.7" stroke="#222" stroke-width="0.6" />
<line x1="386" y1="420.2" x2="386" y2="425.2" stroke="#222" stroke-width="0.6" />
<polygon points="386.0,420.7 387.4,422.7 386.0,424.7 384.6,422.7" fill="#111" stroke="none" stroke-width="1" />
<line x1="457" y1="384" x2="457" y2="520.4" stroke="#555" stroke-width="0.7" />
<line x1="457" y1="384.6" x2="460.5" y2="384.6" stroke="#555" stroke-width="0.6" />
<line x1="457" y1="391.57000000000005" x2="459.5" y2="391.57000000000005" stroke="#555" stroke-width="0.6" />
<line x1="457" y1="398.54" x2="459.5" y2="398.54" stroke="#555" stroke-width="0.6" />
<line x1="457" y1="405.51000000000005" x2="459.5" y2="405.51000000000005" stroke="#555" stroke-width="0.6" />
<line x1="457" y1="412.48" x2="459.5" y2="412.48" stroke="#555" stroke-width="0.6" />
<line x1="457" y1="419.45000000000005" x2="460.5" y2="419.45000000000005" stroke="#555" stroke-width="0.6" />
<line x1="457" y1="426.42" x2="459.5" y2="426.42" stroke="#555" stroke-width="0.6" />
<line x1="457" y1="433.39000000000004" x2="459.5" y2="433.39000000000004" stroke="#555" stroke-width="0.6" />
<line x1="457" y1="440.36" x2="459.5" y2="440.36" stroke="#555" stroke-width="0.6" />
<line x1="457" y1="447.33000000000004" x2="459.5" y2="447.33000000000004" stroke="#555" stroke-width="0.6" />
<line x1="457" y1="454.3" x2="460.5" y2="454.3" stroke="#555" stroke-width="0.6" />
<line x1="457" y1="461.27000000000004" x2="459.5" y2="461.27000000000004" stroke="#555" stroke-width="0.6" />
<line x1="457" y1="468.24" x2="459.5" y2="468.24" stroke="#555" stroke-width="0.6" />
<line x1="457" y1="475.21000000000004" x2="459.5" y2="475.21000000000004" stroke="#555" stroke-width="0.6" />
<line x1="457" y1="482.18" x2="459.5" y2="482.18" stroke="#555" stroke-width="0.6" />
<line x1="457" y1="489.15000000000003" x2="460.5" y2="489.15000000000003" stroke="#555" stroke-width="0.6" />
<line x1="457" y1="496.12" x2="459.5" y2="496.12" stroke="#555" stroke-width="0.6" />
<line x1="457" y1="503.09000000000003" x2="459.5" y2="503.09000000000003" stroke="#555" stroke-width="0.6" />
<line x1="457" y1="510.06" x2="459.5" y2="510.06" stroke="#555" stroke-width="0.6" />
<line x1="457" y1="517.03" x2="459.5" y2="517.03" stroke="#555" stroke-width="0.6" />
<text x="465" y="384.6" font-size="5.5" fill="#555" text-anchor="middle" font-weight="normal" transform="rotate(90 465 384.6)" dominant-baseline="central">0</text>
<text x="465" y="419.45000000000005" font-size="5.5" fill="#555" text-anchor="middle" font-weight="normal" transform="rotate(90 465 419.45000000000005)" dominant-baseline="central">50</text>
<text x="465" y="454.3" font-size="5.5" fill="#555" text-anchor="middle" font-weight="normal" transform="rotate(90 465 454.3)" dominant-baseline="central">100</text>
<text x="465" y="489.15000000000003" font-size="5.5" fill="#555" text-anchor="middle" font-weight="normal" transform="rotate(90 465 489.15000000000003)" dominant-baseline="central">150</text>
<text x="473" y="449" font-size="6.1" fill="#555" text-anchor="middle" font-weight="normal" transform="rotate(90 473 449)" dominant-baseline="central">Depth (mm)</text>
<text x="423" y="402" font-size="4.75" fill="#666" text-anchor="start" font-weight="normal" >sept 1964 flood</text>
<text x="428.7" y="457.6" font-size="4.8" fill="#666" text-anchor="start" font-weight="normal" >1920 flood</text>
<text x="428.7" y="482" font-size="4.8" fill="#666" text-anchor="start" font-weight="normal" >1886 flood</text>
<text x="427" y="505.5" font-size="4.7" fill="#666" text-anchor="start" font-weight="normal" >1868 flood ?</text>
<line x1="371" y1="505" x2="386" y2="505" stroke="#8a949e" stroke-width="1.4" />
<text x="393.9" y="506.8" font-size="4.8" fill="#666" text-anchor="start" font-weight="normal" >CFCS</text>
<line x1="371" y1="510.5" x2="386" y2="510.5" stroke="#d84a3a" stroke-width="1.2" />
<text x="393.9" y="512.3" font-size="4.8" fill="#666" text-anchor="start" font-weight="normal" >CRS</text>
<line x1="371" y1="516.4" x2="386" y2="516.4" stroke="#f0a070" stroke-width="1.2" />
<text x="393.9" y="518.2" font-size="4.8" fill="#666" text-anchor="start" font-weight="normal" >CRS piecewise model</text>
<line x1="6.6" y1="4.6" x2="479.1" y2="4.6" stroke="#3a3a3a" stroke-width="1.5" />
<line x1="6.6" y1="4.6" x2="6.6" y2="544.3" stroke="#3a3a3a" stroke-width="1.5" />
<line x1="479.1" y1="4.6" x2="479.1" y2="544.3" stroke="#3a3a3a" stroke-width="1.6" />
<line x1="6.6" y1="544.3" x2="479.1" y2="544.3" stroke="#3a3a3a" stroke-width="1.6" />
<line x1="6.6" y1="351.3" x2="479.1" y2="351.3" stroke="#3a3a3a" stroke-width="1.5" />
<line x1="276" y1="4.6" x2="276" y2="351.3" stroke="#3a3a3a" stroke-width="1.5" />
</svg>
</body></html>
